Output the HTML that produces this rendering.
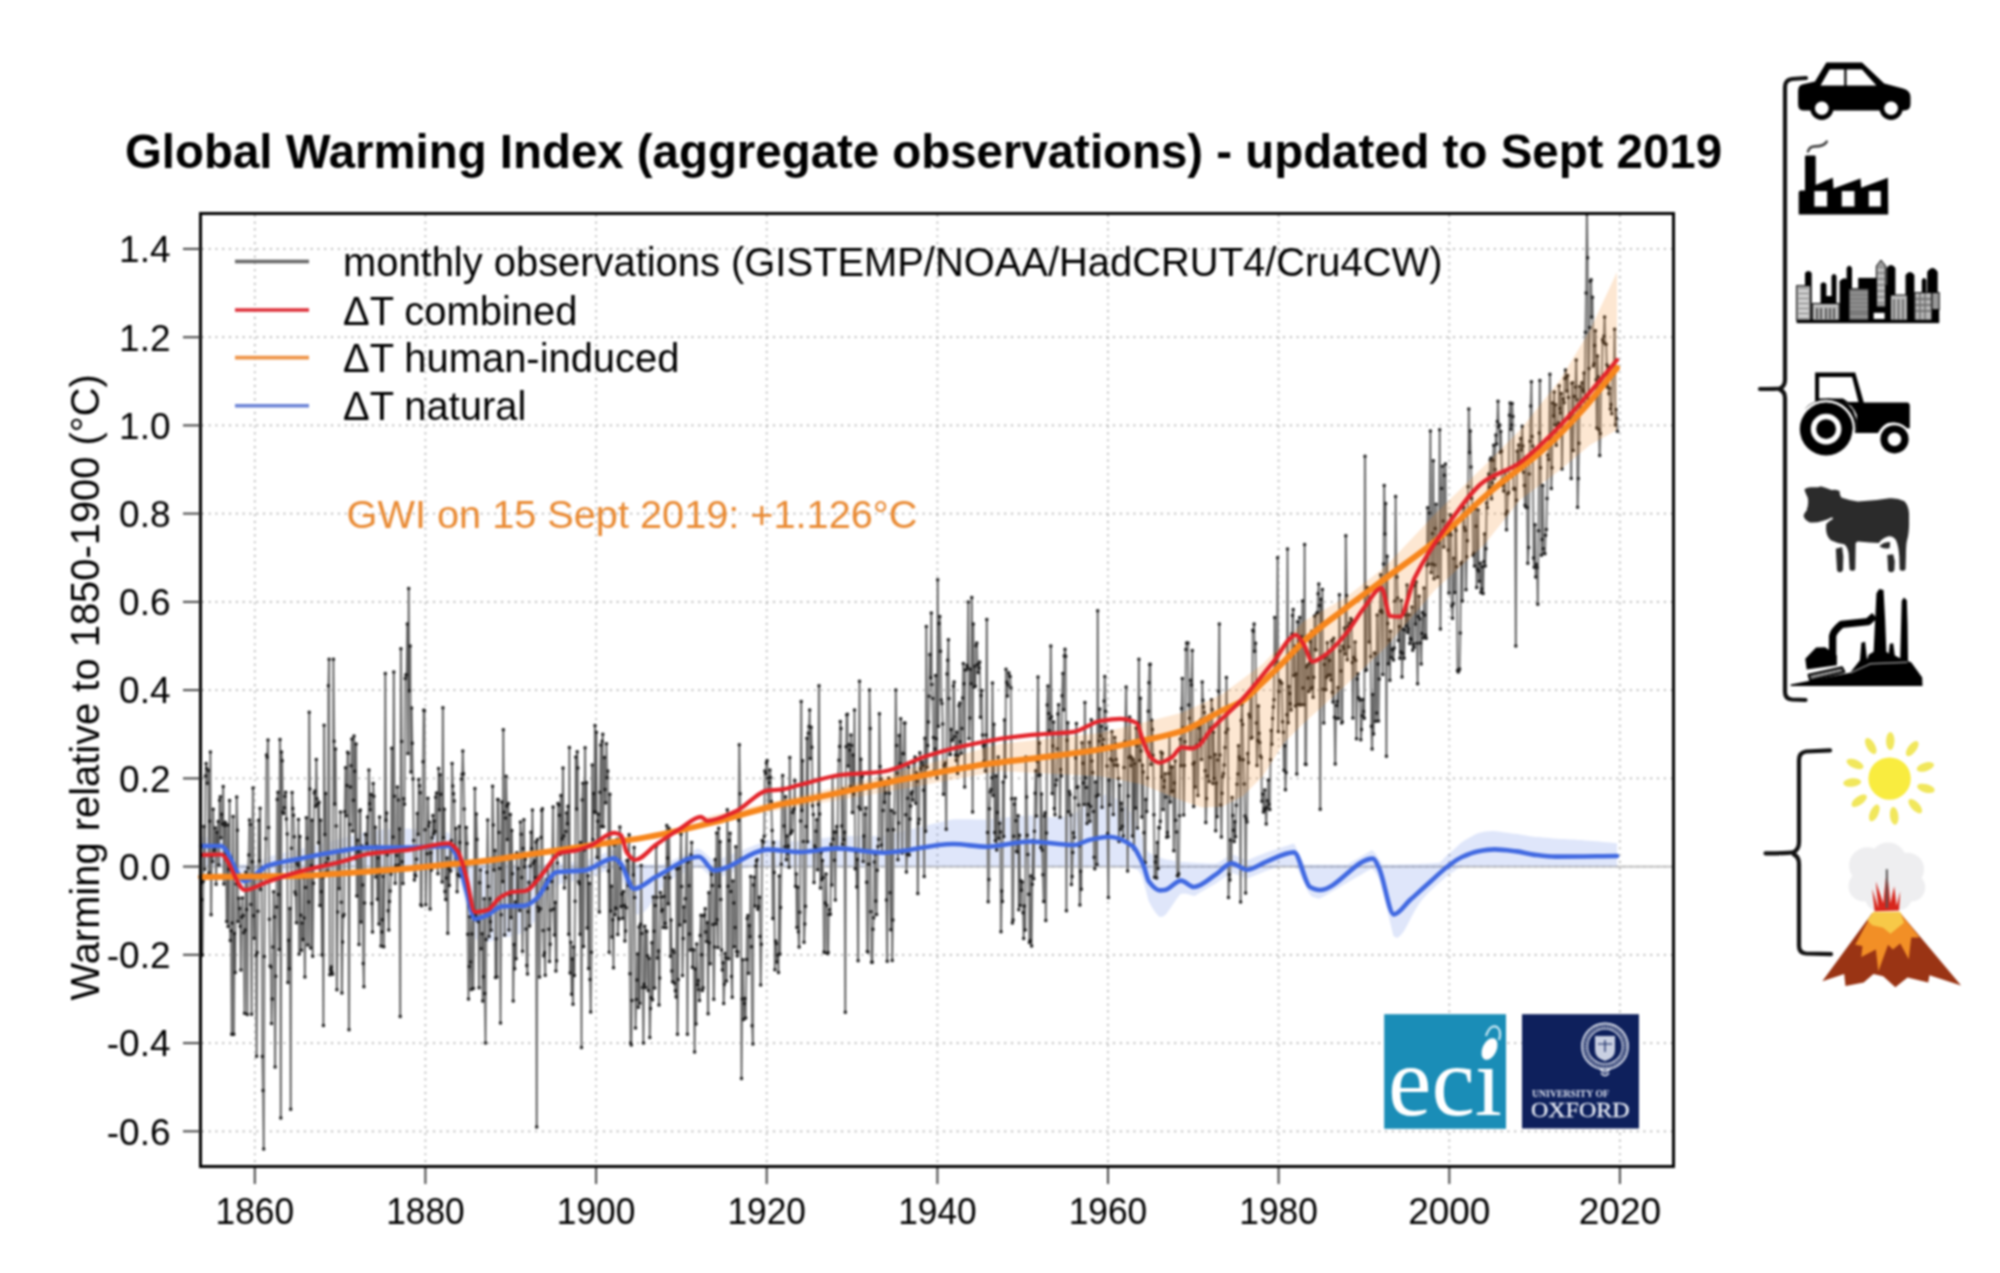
<!DOCTYPE html>
<html><head><meta charset="utf-8"><title>Global Warming Index</title>
<style>
html,body{margin:0;padding:0;background:#fff;}
body{width:2000px;height:1273px;overflow:hidden;}
svg{display:block;filter:blur(0.8px);}
text{font-family:"Liberation Sans",Arial,Helvetica,sans-serif;}
.serif{font-family:"Liberation Serif","Times New Roman",serif;}
</style></head>
<body>
<svg width="2000" height="1273" viewBox="0 0 2000 1273">
<rect width="2000" height="1273" fill="#fff"/>
<!-- title -->
<text x="125" y="168" font-size="47.4" font-weight="bold" fill="#000" textLength="1597" lengthAdjust="spacingAndGlyphs">Global Warming Index (aggregate observations) - updated to Sept 2019</text>

<!-- grid -->
<g stroke="#a8a8a8" stroke-width="1.7" stroke-dasharray="1.7 5.1" fill="none">
<line x1="254.8" y1="215" x2="254.8" y2="1165"/>
<line x1="425.4" y1="215" x2="425.4" y2="1165"/>
<line x1="596.1" y1="215" x2="596.1" y2="1165"/>
<line x1="766.7" y1="215" x2="766.7" y2="1165"/>
<line x1="937.4" y1="215" x2="937.4" y2="1165"/>
<line x1="1108.0" y1="215" x2="1108.0" y2="1165"/>
<line x1="1278.6" y1="215" x2="1278.6" y2="1165"/>
<line x1="1449.3" y1="215" x2="1449.3" y2="1165"/>
<line x1="1619.9" y1="215" x2="1619.9" y2="1165"/>
<line x1="202" y1="1131.3" x2="1672" y2="1131.3"/>
<line x1="202" y1="1043.1" x2="1672" y2="1043.1"/>
<line x1="202" y1="954.8" x2="1672" y2="954.8"/>
<line x1="202" y1="866.6" x2="1672" y2="866.6"/>
<line x1="202" y1="778.4" x2="1672" y2="778.4"/>
<line x1="202" y1="690.1" x2="1672" y2="690.1"/>
<line x1="202" y1="601.9" x2="1672" y2="601.9"/>
<line x1="202" y1="513.6" x2="1672" y2="513.6"/>
<line x1="202" y1="425.4" x2="1672" y2="425.4"/>
<line x1="202" y1="337.2" x2="1672" y2="337.2"/>
<line x1="202" y1="248.9" x2="1672" y2="248.9"/>
</g>
<!-- zero line -->
<line x1="202" y1="866.6" x2="1672" y2="866.6" stroke="#b9b9b9" stroke-width="1.6"/>

<!-- blue band -->
<polygon points="201.0,837.0 204.5,837.0 208.1,837.0 211.6,837.0 215.2,837.0 218.7,837.0 222.3,838.9 225.8,844.1 229.4,849.3 232.9,854.6 236.5,859.8 240.0,864.6 243.6,864.6 247.1,864.6 250.7,864.6 254.2,864.6 257.8,863.2 261.3,860.8 264.9,858.4 268.4,856.6 272.0,855.8 275.5,855.0 279.1,854.2 282.6,853.3 286.2,852.5 289.7,851.6 293.3,850.8 296.8,849.9 300.4,849.1 303.9,848.3 307.5,847.5 311.0,846.7 314.6,845.8 318.1,844.9 321.7,844.0 325.2,843.1 328.8,842.1 332.3,841.1 335.9,840.0 339.4,838.9 343.0,838.0 346.5,837.1 350.1,836.2 353.6,835.2 357.2,834.2 360.7,833.2 364.2,832.3 367.8,831.3 371.3,830.8 374.9,830.3 378.4,829.9 382.0,829.5 385.5,829.1 389.1,828.9 392.6,828.7 396.2,828.5 399.7,828.5 403.3,828.5 406.8,828.6 410.4,828.8 413.9,828.9 417.5,829.1 421.0,829.4 424.6,829.7 428.1,830.0 431.7,830.4 435.2,830.7 438.8,831.1 442.3,831.5 445.9,831.9 449.4,832.9 453.0,838.3 456.5,843.7 460.1,854.5 463.6,861.8 467.2,862.2 470.7,862.5 474.3,862.8 477.8,863.1 481.4,863.3 484.9,863.5 488.5,863.7 492.0,863.9 495.6,864.0 499.1,864.1 502.7,864.2 506.2,864.3 509.8,864.4 513.3,864.4 516.8,864.5 520.4,864.5 523.9,864.5 527.5,864.5 531.0,864.6 534.6,864.6 538.1,864.6 541.7,864.6 545.2,864.6 548.8,864.6 552.3,864.6 555.9,864.4 559.4,862.9 563.0,862.6 566.5,862.4 570.1,862.2 573.6,862.0 577.2,861.8 580.7,861.6 584.3,861.3 587.8,859.9 591.4,858.4 594.9,857.0 598.5,855.6 602.0,854.2 605.6,852.8 609.1,851.4 612.7,849.9 616.2,851.2 619.8,854.0 623.3,859.4 626.9,864.6 630.4,864.6 634.0,864.6 637.5,864.6 641.1,864.6 644.6,864.6 648.2,864.6 651.7,864.6 655.3,864.6 658.8,864.6 662.4,864.6 665.9,863.2 669.5,861.5 673.0,859.9 676.5,858.2 680.1,856.6 683.6,854.9 687.2,853.2 690.7,851.6 694.3,849.9 697.8,848.3 701.4,849.9 704.9,853.1 708.5,856.3 712.0,859.5 715.6,860.7 719.1,859.3 722.7,857.9 726.2,856.5 729.8,855.1 733.3,853.7 736.9,852.3 740.4,850.9 744.0,849.5 747.5,848.1 751.1,846.7 754.6,845.3 758.2,843.9 761.7,842.5 765.3,841.1 768.8,840.0 772.4,840.2 775.9,840.4 779.5,840.6 783.0,840.7 786.6,840.9 790.1,841.1 793.7,841.2 797.2,841.4 800.8,841.4 804.3,840.9 807.9,840.4 811.4,839.9 815.0,839.4 818.5,838.8 822.1,838.3 825.6,837.8 829.2,837.2 832.7,836.6 836.2,836.0 839.8,836.0 843.3,836.0 846.9,836.1 850.4,836.1 854.0,836.1 857.5,836.1 861.1,836.1 864.6,836.1 868.2,836.1 871.7,836.1 875.3,836.0 878.8,836.0 882.4,835.9 885.9,835.4 889.5,834.5 893.0,833.7 896.6,832.8 900.1,831.9 903.7,831.1 907.2,830.2 910.8,829.3 914.3,828.4 917.9,827.6 921.4,826.7 925.0,825.8 928.5,825.0 932.1,824.1 935.6,823.3 939.2,822.4 942.7,821.6 946.3,820.8 949.8,820.0 953.4,819.3 956.9,819.3 960.5,819.2 964.0,819.3 967.6,819.3 971.1,819.3 974.7,819.4 978.2,819.5 981.8,819.6 985.3,819.8 988.8,819.6 992.4,819.1 995.9,818.6 999.5,818.2 1003.0,817.8 1006.6,817.4 1010.1,817.0 1013.7,816.7 1017.2,816.3 1020.8,816.0 1024.3,815.8 1027.9,815.5 1031.4,815.5 1035.0,815.9 1038.5,816.3 1042.1,816.7 1045.6,817.0 1049.2,817.2 1052.7,817.3 1056.3,817.3 1059.8,817.1 1063.4,816.7 1066.9,816.1 1070.5,815.3 1074.0,814.3 1077.6,811.6 1081.1,808.9 1084.7,806.0 1088.2,803.1 1091.8,800.7 1095.3,798.6 1098.9,796.9 1102.4,795.5 1106.0,794.6 1109.5,794.4 1113.1,796.4 1116.6,798.9 1120.2,801.9 1123.7,805.2 1127.3,808.8 1130.8,812.6 1134.4,818.1 1137.9,826.3 1141.5,835.4 1145.0,846.4 1148.5,852.4 1152.1,854.2 1155.6,855.8 1159.2,857.2 1162.7,858.4 1166.3,859.4 1169.8,860.1 1173.4,860.8 1176.9,861.3 1180.5,861.7 1184.0,862.1 1187.6,862.3 1191.1,862.6 1194.7,862.8 1198.2,863.0 1201.8,863.1 1205.3,863.2 1208.9,863.4 1212.4,863.5 1216.0,863.6 1219.5,862.0 1223.1,859.5 1226.6,857.1 1230.2,854.7 1233.7,854.7 1237.3,856.2 1240.8,857.7 1244.4,859.2 1247.9,859.9 1251.5,858.5 1255.0,857.0 1258.6,855.6 1262.1,854.2 1265.7,852.7 1269.2,851.5 1272.8,850.3 1276.3,849.2 1279.9,848.0 1283.4,846.8 1287.0,845.7 1290.5,844.5 1294.1,843.4 1297.6,851.1 1301.2,858.8 1304.7,864.5 1308.2,864.5 1311.8,864.6 1315.3,864.6 1318.9,864.6 1322.4,864.6 1326.0,864.6 1329.5,864.6 1333.1,864.6 1336.6,864.6 1340.2,864.6 1343.7,864.6 1347.3,864.6 1350.8,862.6 1354.4,860.5 1357.9,858.4 1361.5,856.3 1365.0,854.2 1368.6,852.1 1372.1,850.0 1375.7,853.7 1379.2,859.6 1382.8,864.5 1386.3,864.5 1389.9,864.4 1393.4,864.4 1397.0,864.4 1400.5,864.3 1404.1,864.3 1407.6,864.2 1411.2,864.1 1414.7,864.0 1418.3,864.0 1421.8,863.8 1425.4,863.7 1428.9,863.5 1432.5,863.3 1436.0,863.1 1439.6,862.8 1443.1,859.2 1446.7,855.6 1450.2,852.5 1453.8,849.4 1457.3,846.3 1460.8,843.1 1464.4,840.6 1467.9,838.5 1471.5,836.4 1475.0,834.5 1478.6,832.9 1482.1,832.2 1485.7,831.6 1489.2,831.2 1492.8,831.0 1496.3,831.2 1499.9,831.8 1503.4,832.3 1507.0,832.8 1510.5,833.3 1514.1,833.7 1517.6,834.1 1521.2,834.7 1524.7,835.3 1528.3,835.9 1531.8,836.5 1535.4,836.9 1538.9,837.1 1542.5,837.4 1546.0,837.7 1549.6,838.1 1553.1,838.5 1556.7,838.8 1560.2,838.9 1563.8,839.0 1567.3,839.2 1570.9,839.4 1574.4,839.6 1578.0,839.9 1581.5,840.1 1585.1,840.4 1588.6,840.7 1592.2,841.0 1595.7,841.3 1599.3,841.6 1602.8,842.0 1606.4,842.3 1609.9,842.6 1613.5,842.9 1617.0,843.2 1617.0,866.6 1613.5,866.6 1609.9,866.6 1606.4,866.6 1602.8,866.6 1599.3,866.6 1595.7,866.6 1592.2,866.6 1588.6,866.6 1585.1,866.6 1581.5,866.6 1578.0,866.6 1574.4,866.6 1570.9,866.6 1567.3,866.6 1563.8,866.6 1560.2,866.6 1556.7,866.6 1553.1,866.6 1549.6,866.6 1546.0,866.6 1542.5,866.6 1538.9,866.6 1535.4,866.6 1531.8,866.6 1528.3,866.6 1524.7,866.6 1521.2,866.6 1517.6,866.6 1514.1,866.6 1510.5,866.6 1507.0,866.6 1503.4,866.6 1499.9,866.6 1496.3,866.6 1492.8,866.6 1489.2,866.6 1485.7,866.6 1482.1,866.6 1478.6,866.6 1475.0,866.6 1471.5,866.6 1467.9,866.6 1464.4,866.6 1460.8,866.8 1457.3,869.1 1453.8,871.4 1450.2,873.8 1446.7,876.3 1443.1,879.5 1439.6,882.6 1436.0,885.7 1432.5,888.9 1428.9,892.3 1425.4,895.9 1421.8,900.0 1418.3,905.0 1414.7,910.9 1411.2,917.6 1407.6,924.6 1404.1,930.9 1400.5,935.5 1397.0,937.9 1393.4,936.1 1389.9,921.4 1386.3,906.7 1382.8,892.8 1379.2,879.8 1375.7,872.7 1372.1,868.5 1368.6,870.3 1365.0,872.3 1361.5,874.4 1357.9,876.4 1354.4,878.5 1350.8,880.6 1347.3,882.7 1343.7,884.8 1340.2,886.9 1336.6,888.9 1333.1,891.0 1329.5,893.1 1326.0,895.2 1322.4,897.3 1318.9,898.8 1315.3,897.7 1311.8,896.6 1308.2,892.2 1304.7,884.5 1301.2,876.9 1297.6,869.2 1294.1,866.6 1290.5,866.6 1287.0,866.6 1283.4,866.6 1279.9,866.6 1276.3,867.3 1272.8,868.5 1269.2,869.7 1265.7,870.9 1262.1,872.4 1258.6,873.9 1255.0,875.4 1251.5,876.8 1247.9,878.3 1244.4,877.6 1240.8,876.2 1237.3,874.7 1233.7,873.3 1230.2,873.3 1226.6,875.9 1223.1,878.4 1219.5,880.9 1216.0,883.4 1212.4,885.4 1208.9,887.5 1205.3,889.5 1201.8,891.6 1198.2,893.7 1194.7,895.9 1191.1,895.2 1187.6,894.1 1184.0,893.5 1180.5,894.1 1176.9,898.6 1173.4,903.7 1169.8,909.0 1166.3,913.9 1162.7,916.7 1159.2,916.7 1155.6,912.8 1152.1,907.6 1148.5,900.7 1145.0,887.0 1141.5,875.5 1137.9,869.9 1134.4,868.4 1130.8,867.5 1127.3,867.0 1123.7,866.8 1120.2,866.7 1116.6,866.6 1113.1,866.6 1109.5,866.6 1106.0,866.6 1102.4,866.6 1098.9,866.6 1095.3,866.6 1091.8,866.6 1088.2,866.6 1084.7,866.6 1081.1,866.6 1077.6,866.6 1074.0,866.6 1070.5,866.6 1066.9,866.6 1063.4,866.6 1059.8,866.6 1056.3,866.6 1052.7,866.6 1049.2,866.6 1045.6,866.6 1042.1,866.6 1038.5,866.6 1035.0,866.6 1031.4,866.6 1027.9,866.6 1024.3,866.6 1020.8,866.6 1017.2,866.6 1013.7,866.6 1010.1,866.6 1006.6,866.6 1003.0,866.6 999.5,866.6 995.9,866.6 992.4,866.6 988.8,866.6 985.3,866.6 981.8,866.6 978.2,866.6 974.7,866.6 971.1,866.6 967.6,866.6 964.0,866.6 960.5,866.6 956.9,866.6 953.4,866.6 949.8,866.6 946.3,866.6 942.7,866.6 939.2,866.6 935.6,866.6 932.1,866.6 928.5,866.6 925.0,866.6 921.4,866.6 917.9,866.6 914.3,866.6 910.8,866.6 907.2,866.6 903.7,866.6 900.1,866.6 896.6,866.6 893.0,866.6 889.5,866.6 885.9,866.6 882.4,866.6 878.8,866.6 875.3,866.6 871.7,866.6 868.2,866.6 864.6,866.6 861.1,866.6 857.5,866.6 854.0,866.6 850.4,866.6 846.9,866.6 843.3,866.6 839.8,866.6 836.2,866.6 832.7,866.6 829.2,866.6 825.6,866.6 822.1,866.6 818.5,866.6 815.0,866.6 811.4,866.6 807.9,866.6 804.3,866.6 800.8,866.6 797.2,866.6 793.7,866.6 790.1,866.6 786.6,866.6 783.0,866.6 779.5,866.6 775.9,866.6 772.4,866.6 768.8,866.6 765.3,866.6 761.7,866.6 758.2,866.6 754.6,866.6 751.1,866.6 747.5,866.6 744.0,867.9 740.4,869.2 736.9,870.6 733.3,872.0 729.8,873.3 726.2,874.7 722.7,876.1 719.1,877.4 715.6,878.8 712.0,877.6 708.5,874.4 704.9,871.2 701.4,868.0 697.8,866.6 694.3,868.0 690.7,869.6 687.2,871.3 683.6,873.0 680.1,874.7 676.5,876.6 673.0,878.6 669.5,881.0 665.9,883.9 662.4,887.6 658.8,892.0 655.3,897.1 651.7,902.6 648.2,907.6 644.6,911.5 641.1,913.9 637.5,914.5 634.0,913.7 630.4,903.5 626.9,893.2 623.3,883.4 619.8,875.6 616.2,871.2 612.7,869.0 609.1,869.8 605.6,871.0 602.0,872.3 598.5,873.7 594.9,875.2 591.4,876.6 587.8,878.1 584.3,879.7 580.7,880.2 577.2,880.6 573.6,881.1 570.1,881.7 566.5,882.4 563.0,883.2 559.4,884.2 555.9,886.7 552.3,892.3 548.8,898.1 545.2,904.1 541.7,910.2 538.1,916.3 534.6,921.6 531.0,925.4 527.5,929.1 523.9,932.1 520.4,933.7 516.8,935.0 513.3,936.1 509.8,936.8 506.2,937.2 502.7,937.3 499.1,938.6 495.6,940.0 492.0,941.1 488.5,941.9 484.9,941.8 481.4,941.4 477.8,940.8 474.3,937.6 470.7,924.0 467.2,910.5 463.6,896.3 460.1,881.9 456.5,871.5 453.0,870.5 449.4,869.7 445.9,869.0 442.3,868.4 438.8,867.9 435.2,867.6 431.7,867.3 428.1,867.1 424.6,867.0 421.0,866.8 417.5,866.8 413.9,866.7 410.4,866.7 406.8,866.6 403.3,866.6 399.7,866.6 396.2,866.6 392.6,866.6 389.1,866.6 385.5,866.6 382.0,866.6 378.4,866.6 374.9,866.6 371.3,866.6 367.8,866.6 364.2,866.6 360.7,866.6 357.2,866.6 353.6,866.6 350.1,866.6 346.5,866.6 343.0,866.6 339.4,866.6 335.9,866.6 332.3,866.6 328.8,866.6 325.2,866.6 321.7,866.6 318.1,866.6 314.6,866.6 311.0,866.6 307.5,866.6 303.9,866.9 300.4,867.5 296.8,868.3 293.3,869.1 289.7,869.9 286.2,870.7 282.6,871.5 279.1,872.3 275.5,873.1 272.0,873.9 268.4,874.7 264.9,876.4 261.3,878.8 257.8,881.2 254.2,883.6 250.7,886.0 247.1,888.4 243.6,888.2 240.0,883.0 236.5,877.8 232.9,872.6 229.4,867.3 225.8,866.6 222.3,866.6 218.7,866.6 215.2,866.6 211.6,866.6 208.1,866.6 204.5,866.6 201.0,866.6" fill="#4169e1" fill-opacity="0.17"/>

<!-- data -->
<defs><clipPath id="pc"><rect x="202" y="215" width="1470" height="950"/></clipPath></defs>
<g clip-path="url(#pc)">
<path d="M169.8 828.2 L170.5 756.3 L171.3 779.4 L172.0 812.8 L172.7 838.2 L173.4 861.9 L174.1 813.9 L174.8 825.7 L175.5 788.1 L176.2 885.1 L176.9 782.3 L177.7 813.6 L178.4 786.2 L179.1 817.5 L179.8 844.6 L180.5 811.8 L181.2 777.7 L181.9 817.1 L182.6 832.3 L183.3 794.4 L184.1 860.4 L184.8 924.8 L185.5 851.9 L186.2 875.8 L186.9 953.4 L187.6 929.6 L188.3 900.2 L189.0 925.7 L189.7 953.3 L190.5 884.1 L191.2 806.7 L191.9 831.8 L192.6 870.6 L193.3 827.9 L194.0 790.7 L194.7 828.1 L195.4 800.1 L196.1 760.7 L196.9 809.4 L197.6 864.1 L198.3 827.1 L199.0 815.6 L199.7 764.9 L200.4 869.1 L201.1 883.5 L201.8 899.7 L202.5 955.1 L203.3 881.5 L204.0 826.6 L204.7 869.3 L205.4 775.9 L206.1 763.5 L206.8 768.6 L207.5 783.3 L208.2 770.6 L208.9 873.1 L209.7 821.3 L210.4 751.9 L211.1 914.8 L211.8 856.1 L212.5 861.4 L213.2 809.3 L213.9 850.8 L214.6 848.0 L215.3 828.0 L216.1 884.2 L216.8 832.2 L217.5 846.2 L218.2 821.6 L218.9 865.0 L219.6 800.2 L220.3 796.8 L221.0 837.8 L221.7 814.2 L222.4 824.0 L223.2 786.4 L223.9 884.0 L224.6 825.4 L225.3 822.3 L226.0 853.6 L226.7 921.5 L227.4 825.1 L228.1 926.4 L228.8 869.2 L229.6 800.4 L230.3 940.5 L231.0 930.8 L231.7 1034.3 L232.4 923.0 L233.1 816.5 L233.8 1034.3 L234.5 933.4 L235.2 972.5 L236.0 883.9 L236.7 797.1 L237.4 830.3 L238.1 921.4 L238.8 898.3 L239.5 908.5 L240.2 926.3 L240.9 970.1 L241.6 917.3 L242.4 897.9 L243.1 915.6 L243.8 932.7 L244.5 1013.2 L245.2 929.9 L245.9 871.9 L246.6 909.4 L247.3 1014.4 L248.0 868.1 L248.8 855.1 L249.5 820.0 L250.2 824.5 L250.9 904.4 L251.6 1014.2 L252.3 861.7 L253.0 788.0 L253.7 915.8 L254.4 938.2 L255.2 876.3 L255.9 955.2 L256.6 1056.3 L257.3 952.4 L258.0 911.3 L258.7 820.3 L259.4 860.9 L260.1 808.3 L260.8 889.5 L261.6 867.5 L262.3 1056.4 L263.0 1090.5 L263.7 1149.0 L264.4 956.4 L265.1 875.0 L265.8 838.7 L266.5 755.0 L267.2 757.2 L268.0 739.9 L268.7 827.4 L269.4 919.3 L270.1 966.0 L270.8 966.9 L271.5 1023.6 L272.2 999.1 L272.9 946.9 L273.6 891.7 L274.4 917.0 L275.1 1067.1 L275.8 976.3 L276.5 907.1 L277.2 799.4 L277.9 792.2 L278.6 894.4 L279.3 949.5 L280.0 739.5 L280.8 1118.1 L281.5 751.9 L282.2 760.7 L282.9 811.9 L283.6 813.5 L284.3 807.8 L285.0 796.3 L285.7 792.2 L286.4 819.0 L287.2 833.9 L287.9 982.6 L288.6 940.2 L289.3 968.8 L290.0 908.6 L290.7 1109.3 L291.4 848.3 L292.1 792.6 L292.8 808.4 L293.5 815.2 L294.3 836.8 L295.0 891.9 L295.7 894.4 L296.4 922.8 L297.1 863.2 L297.8 865.3 L298.5 819.4 L299.2 954.0 L299.9 836.6 L300.7 915.2 L301.4 950.2 L302.1 923.0 L302.8 939.4 L303.5 877.7 L304.2 918.0 L304.9 977.0 L305.6 887.4 L306.3 817.8 L307.1 838.2 L307.8 945.0 L308.5 901.9 L309.2 712.2 L309.9 788.9 L310.6 948.1 L311.3 865.4 L312.0 820.2 L312.7 956.2 L313.5 883.2 L314.2 792.9 L314.9 791.0 L315.6 806.3 L316.3 759.5 L317.0 798.8 L317.7 804.0 L318.4 842.8 L319.1 802.2 L319.9 905.6 L320.6 820.3 L321.3 891.7 L322.0 954.9 L322.7 877.6 L323.4 1025.4 L324.1 725.2 L324.8 834.6 L325.5 793.4 L326.3 862.9 L327.0 871.0 L327.7 858.4 L328.4 685.7 L329.1 659.2 L329.8 974.7 L330.5 969.8 L331.2 966.9 L331.9 971.9 L332.7 974.3 L333.4 659.2 L334.1 741.3 L334.8 804.0 L335.5 748.9 L336.2 825.9 L336.9 989.8 L337.6 912.0 L338.3 851.4 L339.1 888.5 L339.8 850.9 L340.5 811.9 L341.2 902.2 L341.9 993.1 L342.6 942.1 L343.3 916.3 L344.0 914.4 L344.7 811.8 L345.5 767.8 L346.2 815.7 L346.9 785.4 L347.6 752.3 L348.3 753.2 L349.0 1029.8 L349.7 824.6 L350.4 786.9 L351.1 765.7 L351.9 739.1 L352.6 831.1 L353.3 800.2 L354.0 735.9 L354.7 771.2 L355.4 858.4 L356.1 743.9 L356.8 896.0 L357.5 840.2 L358.3 851.4 L359.0 944.6 L359.7 811.1 L360.4 810.0 L361.1 921.9 L361.8 845.9 L362.5 885.0 L363.2 963.6 L363.9 986.7 L364.6 903.1 L365.4 834.2 L366.1 834.7 L366.8 843.8 L367.5 816.9 L368.2 853.6 L368.9 769.9 L369.6 803.7 L370.3 809.7 L371.0 794.6 L371.8 903.6 L372.5 932.1 L373.2 783.4 L373.9 796.2 L374.6 847.3 L375.3 827.3 L376.0 876.9 L376.7 846.5 L377.4 899.3 L378.2 857.7 L378.9 924.0 L379.6 817.1 L380.3 873.0 L381.0 946.1 L381.7 931.9 L382.4 919.7 L383.1 876.2 L383.8 946.7 L384.6 872.1 L385.3 673.6 L386.0 820.2 L386.7 812.9 L387.4 854.9 L388.1 910.7 L388.8 929.9 L389.5 901.6 L390.2 891.1 L391.0 874.2 L391.7 748.2 L392.4 848.6 L393.1 837.0 L393.8 672.1 L394.5 796.2 L395.2 883.3 L395.9 865.4 L396.6 855.5 L397.4 787.1 L398.1 800.1 L398.8 865.1 L399.5 828.9 L400.2 1016.6 L400.9 648.7 L401.6 741.4 L402.3 861.7 L403.0 883.5 L403.8 798.8 L404.5 804.2 L405.2 678.4 L405.9 674.7 L406.6 675.0 L407.3 623.9 L408.0 753.5 L408.7 588.6 L409.4 690.7 L410.2 646.0 L410.9 772.1 L411.6 708.0 L412.3 743.2 L413.0 779.1 L413.7 840.5 L414.4 879.9 L415.1 874.9 L415.8 876.1 L416.6 859.2 L417.3 813.5 L418.0 834.3 L418.7 779.6 L419.4 785.7 L420.1 792.7 L420.8 904.7 L421.5 905.7 L422.2 847.0 L423.0 761.7 L423.7 710.3 L424.4 710.5 L425.1 829.7 L425.8 904.8 L426.5 867.6 L427.2 853.7 L427.9 798.3 L428.6 826.0 L429.4 822.2 L430.1 908.9 L430.8 852.7 L431.5 870.0 L432.2 837.8 L432.9 815.6 L433.6 834.1 L434.3 821.1 L435.0 831.6 L435.7 797.2 L436.5 792.9 L437.2 844.9 L437.9 873.7 L438.6 768.5 L439.3 809.7 L440.0 774.7 L440.7 794.2 L441.4 843.7 L442.1 882.1 L442.9 707.8 L443.6 837.7 L444.3 809.3 L445.0 891.6 L445.7 899.5 L446.4 878.0 L447.1 858.0 L447.8 933.2 L448.5 868.3 L449.3 885.4 L450.0 844.4 L450.7 870.9 L451.4 840.6 L452.1 763.5 L452.8 786.0 L453.5 793.8 L454.2 801.1 L454.9 862.7 L455.7 828.4 L456.4 849.6 L457.1 891.8 L457.8 874.4 L458.5 875.6 L459.2 826.4 L459.9 842.4 L460.6 876.3 L461.3 779.1 L462.1 774.2 L462.8 751.1 L463.5 773.7 L464.2 809.0 L464.9 865.6 L465.6 881.4 L466.3 827.6 L467.0 843.4 L467.7 934.3 L468.5 999.0 L469.2 966.6 L469.9 916.7 L470.6 961.9 L471.3 989.4 L472.0 933.9 L472.7 915.9 L473.4 988.6 L474.1 913.7 L474.9 788.5 L475.6 915.7 L476.3 814.0 L477.0 839.4 L477.7 920.9 L478.4 921.8 L479.1 987.8 L479.8 882.8 L480.5 869.9 L481.3 948.7 L482.0 933.8 L482.7 1001.0 L483.4 976.8 L484.1 898.7 L484.8 993.4 L485.5 1043.1 L486.2 939.6 L486.9 872.2 L487.7 820.0 L488.4 886.6 L489.1 936.4 L489.8 898.7 L490.5 921.7 L491.2 930.3 L491.9 858.6 L492.6 786.2 L493.3 825.0 L494.1 870.0 L494.8 850.6 L495.5 977.4 L496.2 938.8 L496.9 976.9 L497.6 799.4 L498.3 799.8 L499.0 832.4 L499.7 868.5 L500.5 1022.9 L501.2 914.8 L501.9 802.0 L502.6 881.4 L503.3 729.8 L504.0 812.3 L504.7 935.1 L505.4 818.0 L506.1 776.2 L506.8 806.0 L507.6 839.4 L508.3 803.6 L509.0 930.0 L509.7 894.5 L510.4 814.5 L511.1 917.6 L511.8 830.6 L512.5 873.8 L513.2 1000.9 L514.0 944.5 L514.7 968.8 L515.4 901.9 L516.1 958.7 L516.8 852.7 L517.5 906.4 L518.2 868.5 L518.9 906.4 L519.6 910.5 L520.4 822.1 L521.1 834.3 L521.8 877.4 L522.5 951.2 L523.2 848.6 L523.9 819.8 L524.6 866.9 L525.3 859.2 L526.0 929.0 L526.8 965.4 L527.5 974.1 L528.2 911.7 L528.9 882.3 L529.6 925.9 L530.3 866.0 L531.0 832.2 L531.7 848.7 L532.4 810.1 L533.2 863.2 L533.9 882.3 L534.6 860.8 L535.3 877.4 L536.0 842.0 L536.7 1126.9 L537.4 839.4 L538.1 907.2 L538.8 910.9 L539.6 977.0 L540.3 908.7 L541.0 837.6 L541.7 810.6 L542.4 808.8 L543.1 930.6 L543.8 955.8 L544.5 952.8 L545.2 975.2 L546.0 882.2 L546.7 879.4 L547.4 888.2 L548.1 865.6 L548.8 929.2 L549.5 961.4 L550.2 944.2 L550.9 910.3 L551.6 881.6 L552.4 852.0 L553.1 806.9 L553.8 908.9 L554.5 935.1 L555.2 902.4 L555.9 971.1 L556.6 960.7 L557.3 863.1 L558.0 803.4 L558.8 805.1 L559.5 815.3 L560.2 854.4 L560.9 795.5 L561.6 852.5 L562.3 838.7 L563.0 768.0 L563.7 835.8 L564.4 888.1 L565.2 877.5 L565.9 831.5 L566.6 813.1 L567.3 823.8 L568.0 806.2 L568.7 934.3 L569.4 747.5 L570.1 973.0 L570.8 942.3 L571.6 994.3 L572.3 959.0 L573.0 1004.3 L573.7 947.1 L574.4 975.6 L575.1 901.2 L575.8 757.1 L576.5 809.1 L577.2 751.7 L577.9 768.0 L578.7 881.7 L579.4 883.7 L580.1 934.2 L580.8 842.6 L581.5 1047.5 L582.2 799.9 L582.9 783.3 L583.6 946.6 L584.3 850.1 L585.1 747.7 L585.8 844.8 L586.5 782.8 L587.2 928.0 L587.9 875.7 L588.6 968.5 L589.3 883.6 L590.0 979.4 L590.7 1012.0 L591.5 952.3 L592.2 765.1 L592.9 839.4 L593.6 793.6 L594.3 812.1 L595.0 725.4 L595.7 812.2 L596.4 732.3 L597.1 857.6 L597.9 821.2 L598.6 814.2 L599.3 911.9 L600.0 792.2 L600.7 744.9 L601.4 826.5 L602.1 741.3 L602.8 734.2 L603.5 826.8 L604.3 757.6 L605.0 789.6 L605.7 802.7 L606.4 743.8 L607.1 777.7 L607.8 770.9 L608.5 871.1 L609.2 952.2 L609.9 794.2 L610.7 911.0 L611.4 886.2 L612.1 937.1 L612.8 919.8 L613.5 967.7 L614.2 845.3 L614.9 914.7 L615.6 908.0 L616.3 908.6 L617.1 839.3 L617.8 934.6 L618.5 918.3 L619.2 919.1 L619.9 827.0 L620.6 867.9 L621.3 906.5 L622.0 894.1 L622.7 918.3 L623.5 891.5 L624.2 905.5 L624.9 940.9 L625.6 931.1 L626.3 907.8 L627.0 860.6 L627.7 880.6 L628.4 885.5 L629.1 834.7 L629.9 973.7 L630.6 1043.1 L631.3 1044.9 L632.0 1000.6 L632.7 858.9 L633.4 875.1 L634.1 847.4 L634.8 897.6 L635.5 1028.1 L636.3 999.5 L637.0 979.9 L637.7 954.0 L638.4 1007.3 L639.1 927.1 L639.8 1003.3 L640.5 924.2 L641.2 865.6 L641.9 933.6 L642.7 987.5 L643.4 1043.1 L644.1 984.3 L644.8 926.3 L645.5 987.5 L646.2 930.7 L646.9 931.4 L647.6 955.7 L648.3 990.5 L649.0 958.6 L649.8 1037.6 L650.5 1008.5 L651.2 997.7 L651.9 942.8 L652.6 999.8 L653.3 897.1 L654.0 931.3 L654.7 988.1 L655.4 905.6 L656.2 846.5 L656.9 897.3 L657.6 957.9 L658.3 950.9 L659.0 1005.1 L659.7 977.9 L660.4 892.4 L661.1 897.1 L661.8 910.9 L662.6 909.7 L663.3 927.4 L664.0 896.6 L664.7 877.5 L665.4 923.3 L666.1 927.7 L666.8 825.5 L667.5 857.9 L668.2 903.7 L669.0 828.2 L669.7 877.8 L670.4 956.2 L671.1 920.0 L671.8 971.1 L672.5 981.7 L673.2 950.0 L673.9 952.6 L674.6 983.2 L675.4 990.8 L676.1 997.0 L676.8 868.9 L677.5 1034.3 L678.2 979.4 L678.9 868.3 L679.6 924.9 L680.3 862.2 L681.0 834.3 L681.8 886.5 L682.5 975.4 L683.2 938.6 L683.9 907.1 L684.6 921.6 L685.3 898.7 L686.0 858.8 L686.7 827.0 L687.4 1034.3 L688.2 862.0 L688.9 885.7 L689.6 934.1 L690.3 950.1 L691.0 854.9 L691.7 842.5 L692.4 967.3 L693.1 949.6 L693.8 949.9 L694.6 1051.9 L695.3 968.9 L696.0 1023.9 L696.7 944.1 L697.4 984.7 L698.1 980.6 L698.8 989.4 L699.5 1000.4 L700.2 935.4 L701.0 915.3 L701.7 954.8 L702.4 990.5 L703.1 987.7 L703.8 915.8 L704.5 915.0 L705.2 908.8 L705.9 932.1 L706.6 941.4 L707.4 922.8 L708.1 1013.8 L708.8 892.8 L709.5 942.7 L710.2 963.7 L710.9 870.1 L711.6 874.6 L712.3 885.5 L713.0 924.4 L713.8 999.2 L714.5 947.0 L715.2 859.6 L715.9 923.7 L716.6 833.0 L717.3 919.8 L718.0 947.4 L718.7 828.2 L719.4 886.3 L720.1 841.7 L720.9 899.4 L721.6 949.9 L722.3 970.0 L723.0 962.7 L723.7 1003.4 L724.4 984.3 L725.1 953.6 L725.8 957.7 L726.5 981.1 L727.3 809.7 L728.0 886.2 L728.7 958.7 L729.4 840.5 L730.1 833.2 L730.8 891.4 L731.5 976.6 L732.2 997.2 L732.9 880.9 L733.7 902.9 L734.4 946.7 L735.1 927.4 L735.8 846.8 L736.5 951.5 L737.2 955.9 L737.9 952.1 L738.6 820.2 L739.3 744.7 L740.1 793.8 L740.8 858.9 L741.5 1078.4 L742.2 999.1 L742.9 959.8 L743.6 1019.4 L744.3 1003.5 L745.0 998.4 L745.7 1018.0 L746.5 959.5 L747.2 918.5 L747.9 915.4 L748.6 973.2 L749.3 925.6 L750.0 936.7 L750.7 876.6 L751.4 946.8 L752.1 1025.8 L752.9 1044.0 L753.6 885.0 L754.3 877.2 L755.0 906.1 L755.7 865.9 L756.4 861.0 L757.1 859.4 L757.8 909.3 L758.5 906.5 L759.3 897.3 L760.0 936.5 L760.7 984.9 L761.4 944.3 L762.1 840.5 L762.8 849.1 L763.5 841.9 L764.2 836.2 L764.9 770.9 L765.7 773.6 L766.4 763.1 L767.1 760.4 L767.8 778.0 L768.5 808.7 L769.2 782.8 L769.9 769.9 L770.6 777.5 L771.3 801.6 L772.1 830.5 L772.8 918.6 L773.5 842.6 L774.2 872.6 L774.9 969.8 L775.6 941.1 L776.3 943.5 L777.0 962.0 L777.7 955.1 L778.5 972.5 L779.2 875.9 L779.9 953.9 L780.6 907.5 L781.3 864.2 L782.0 790.7 L782.7 775.5 L783.4 802.3 L784.1 825.9 L784.9 846.8 L785.6 796.8 L786.3 859.8 L787.0 836.0 L787.7 853.3 L788.4 846.1 L789.1 867.2 L789.8 757.5 L790.5 833.8 L791.2 832.8 L792.0 830.8 L792.7 812.6 L793.4 809.5 L794.1 808.7 L794.8 780.4 L795.5 886.2 L796.2 874.1 L796.9 927.5 L797.6 887.2 L798.4 931.8 L799.1 947.1 L799.8 912.3 L800.5 821.1 L801.2 701.6 L801.9 810.5 L802.6 760.7 L803.3 841.4 L804.0 942.2 L804.8 924.1 L805.5 906.2 L806.2 826.4 L806.9 738.2 L807.6 841.7 L808.3 733.2 L809.0 726.4 L809.7 710.0 L810.4 758.6 L811.2 727.2 L811.9 747.3 L812.6 805.8 L813.3 814.5 L814.0 882.5 L814.7 846.0 L815.4 848.2 L816.1 831.2 L816.8 819.8 L817.6 869.8 L818.3 804.5 L819.0 685.7 L819.7 814.1 L820.4 887.9 L821.1 852.4 L821.8 879.6 L822.5 860.5 L823.2 877.6 L824.0 951.9 L824.7 952.4 L825.4 903.0 L826.1 873.9 L826.8 905.6 L827.5 953.4 L828.2 952.4 L828.9 914.4 L829.6 909.5 L830.4 914.3 L831.1 844.3 L831.8 884.9 L832.5 776.8 L833.2 839.3 L833.9 832.1 L834.6 860.2 L835.3 899.9 L836.0 831.9 L836.8 826.4 L837.5 849.1 L838.2 775.4 L838.9 760.2 L839.6 746.4 L840.3 721.5 L841.0 728.6 L841.7 826.1 L842.4 844.3 L843.2 789.2 L843.9 839.8 L844.6 832.2 L845.3 1012.2 L846.0 746.8 L846.7 714.7 L847.4 714.3 L848.1 766.0 L848.8 744.5 L849.6 749.9 L850.3 786.4 L851.0 735.1 L851.7 745.5 L852.4 812.5 L853.1 755.0 L853.8 793.9 L854.5 709.9 L855.2 868.8 L856.0 851.8 L856.7 886.9 L857.4 859.4 L858.1 960.7 L858.8 807.0 L859.5 681.3 L860.2 809.2 L860.9 759.3 L861.6 789.5 L862.3 776.4 L863.1 861.4 L863.8 836.1 L864.5 851.0 L865.2 814.5 L865.9 807.9 L866.6 882.3 L867.3 951.4 L868.0 952.0 L868.7 864.2 L869.5 690.1 L870.2 728.4 L870.9 911.8 L871.6 962.3 L872.3 962.3 L873.0 929.2 L873.7 917.7 L874.4 861.9 L875.1 854.2 L875.9 901.1 L876.6 914.4 L877.3 870.2 L878.0 846.5 L878.7 839.2 L879.4 713.8 L880.1 766.6 L880.8 779.2 L881.5 844.9 L882.3 852.2 L883.0 810.5 L883.7 782.1 L884.4 802.3 L885.1 785.6 L885.8 792.9 L886.5 899.9 L887.2 961.3 L887.9 830.1 L888.7 778.2 L889.4 793.3 L890.1 892.8 L890.8 929.7 L891.5 810.4 L892.2 960.4 L892.9 920.0 L893.6 829.8 L894.3 813.0 L895.1 768.8 L895.8 690.1 L896.5 745.6 L897.2 773.2 L897.9 859.8 L898.6 823.0 L899.3 735.6 L900.0 763.4 L900.7 718.8 L901.5 779.1 L902.2 853.1 L902.9 753.6 L903.6 753.7 L904.3 723.1 L905.0 722.9 L905.7 814.7 L906.4 872.0 L907.1 854.4 L907.9 798.3 L908.6 767.1 L909.3 854.9 L910.0 819.0 L910.7 806.1 L911.4 793.7 L912.1 791.8 L912.8 800.0 L913.5 761.3 L914.3 762.2 L915.0 757.1 L915.7 803.2 L916.4 772.7 L917.1 781.2 L917.8 893.5 L918.5 823.3 L919.2 819.3 L919.9 752.7 L920.7 768.8 L921.4 775.0 L922.1 762.1 L922.8 765.6 L923.5 790.3 L924.2 876.4 L924.9 738.3 L925.6 831.3 L926.3 626.6 L927.1 767.3 L927.8 745.6 L928.5 722.0 L929.2 696.3 L929.9 654.4 L930.6 677.7 L931.3 613.1 L932.0 684.6 L932.7 698.5 L933.4 737.5 L934.2 770.9 L934.9 749.0 L935.6 675.4 L936.3 738.7 L937.0 777.9 L937.7 579.8 L938.4 726.3 L939.1 623.5 L939.8 616.5 L940.6 651.3 L941.3 700.1 L942.0 703.5 L942.7 724.1 L943.4 794.2 L944.1 765.4 L944.8 764.8 L945.5 763.0 L946.2 829.2 L947.0 674.1 L947.7 660.2 L948.4 639.7 L949.1 698.6 L949.8 754.4 L950.5 754.5 L951.2 729.6 L951.9 740.4 L952.6 739.5 L953.4 686.0 L954.1 681.9 L954.8 736.5 L955.5 754.9 L956.2 760.5 L956.9 732.3 L957.6 773.6 L958.3 755.5 L959.0 705.7 L959.8 703.0 L960.5 741.7 L961.2 753.2 L961.9 728.6 L962.6 697.9 L963.3 663.5 L964.0 683.7 L964.7 787.1 L965.4 670.1 L966.2 669.8 L966.9 665.2 L967.6 667.2 L968.3 601.9 L969.0 738.4 L969.7 718.0 L970.4 669.3 L971.1 683.8 L971.8 597.5 L972.6 812.1 L973.3 623.9 L974.0 686.9 L974.7 666.3 L975.4 686.2 L976.1 645.7 L976.8 643.1 L977.5 664.6 L978.2 672.5 L979.0 668.0 L979.7 662.1 L980.4 717.3 L981.1 695.4 L981.8 690.5 L982.5 734.9 L983.2 745.9 L983.9 761.3 L984.6 745.1 L985.4 771.0 L986.1 735.0 L986.8 619.5 L987.5 832.6 L988.2 901.7 L988.9 879.5 L989.6 808.8 L990.3 792.0 L991.0 789.4 L991.8 777.8 L992.5 682.9 L993.2 795.5 L993.9 724.3 L994.6 832.5 L995.3 840.7 L996.0 776.1 L996.7 849.9 L997.4 812.5 L998.2 756.9 L998.9 838.3 L999.6 823.3 L1000.3 832.1 L1001.0 931.8 L1001.7 891.1 L1002.4 901.6 L1003.1 781.9 L1003.8 836.4 L1004.5 720.0 L1005.3 776.9 L1006.0 669.3 L1006.7 682.2 L1007.4 696.0 L1008.1 685.0 L1008.8 672.8 L1009.5 676.0 L1010.2 676.4 L1010.9 687.8 L1011.7 798.8 L1012.4 922.9 L1013.1 920.0 L1013.8 836.3 L1014.5 804.2 L1015.2 798.4 L1015.9 820.8 L1016.6 851.5 L1017.3 851.9 L1018.1 815.7 L1018.8 909.8 L1019.5 835.3 L1020.2 905.5 L1020.9 880.8 L1021.6 890.3 L1022.3 882.1 L1023.0 912.8 L1023.7 938.5 L1024.5 905.9 L1025.2 929.9 L1025.9 756.9 L1026.6 796.9 L1027.3 835.3 L1028.0 854.4 L1028.7 894.2 L1029.4 942.5 L1030.1 940.6 L1030.9 875.9 L1031.6 946.0 L1032.3 884.3 L1033.0 840.4 L1033.7 878.8 L1034.4 831.3 L1035.1 793.3 L1035.8 770.8 L1036.5 816.1 L1037.3 761.4 L1038.0 676.9 L1038.7 775.5 L1039.4 743.1 L1040.1 775.0 L1040.8 847.4 L1041.5 794.0 L1042.2 850.2 L1042.9 874.7 L1043.7 901.6 L1044.4 816.0 L1045.1 812.8 L1045.8 920.5 L1046.5 833.1 L1047.2 704.9 L1047.9 685.9 L1048.6 713.4 L1049.3 730.7 L1050.1 718.8 L1050.8 646.0 L1051.5 716.8 L1052.2 793.5 L1052.9 746.0 L1053.6 722.0 L1054.3 808.6 L1055.0 814.7 L1055.7 785.0 L1056.5 779.9 L1057.2 748.7 L1057.9 714.0 L1058.6 704.7 L1059.3 733.3 L1060.0 817.3 L1060.7 769.4 L1061.4 776.0 L1062.1 695.7 L1062.9 673.4 L1063.6 709.8 L1064.3 656.1 L1065.0 649.3 L1065.7 656.3 L1066.4 910.7 L1067.1 740.3 L1067.8 722.8 L1068.5 811.8 L1069.3 791.5 L1070.0 794.5 L1070.7 814.9 L1071.4 884.6 L1072.1 876.6 L1072.8 852.4 L1073.5 832.8 L1074.2 837.5 L1074.9 797.7 L1075.6 757.9 L1076.4 723.4 L1077.1 787.5 L1077.8 786.7 L1078.5 805.0 L1079.2 845.7 L1079.9 905.1 L1080.6 871.3 L1081.3 889.3 L1082.0 742.7 L1082.8 763.2 L1083.5 782.9 L1084.2 804.4 L1084.9 702.6 L1085.6 777.7 L1086.3 787.5 L1087.0 823.4 L1087.7 814.8 L1088.4 804.2 L1089.2 742.3 L1089.9 821.2 L1090.6 806.4 L1091.3 719.7 L1092.0 761.1 L1092.7 772.5 L1093.4 811.6 L1094.1 857.3 L1094.8 868.8 L1095.6 782.0 L1096.3 796.3 L1097.0 864.4 L1097.7 610.7 L1098.4 795.1 L1099.1 741.1 L1099.8 709.1 L1100.5 736.0 L1101.2 726.2 L1102.0 807.2 L1102.7 744.6 L1103.4 739.5 L1104.1 701.0 L1104.8 676.5 L1105.5 711.2 L1106.2 728.4 L1106.9 766.0 L1107.6 833.4 L1108.4 897.5 L1109.1 780.0 L1109.8 805.0 L1110.5 758.9 L1111.2 749.6 L1111.9 731.6 L1112.6 760.8 L1113.3 814.4 L1114.0 765.1 L1114.8 737.6 L1115.5 744.0 L1116.2 759.5 L1116.9 765.6 L1117.6 765.2 L1118.3 778.6 L1119.0 841.6 L1119.7 785.2 L1120.4 829.3 L1121.2 803.3 L1121.9 809.8 L1122.6 826.2 L1123.3 835.9 L1124.0 767.4 L1124.7 741.7 L1125.4 720.2 L1126.1 687.1 L1126.8 743.2 L1127.6 871.0 L1128.3 795.9 L1129.0 757.5 L1129.7 717.1 L1130.4 756.2 L1131.1 765.8 L1131.8 757.8 L1132.5 835.9 L1133.2 759.8 L1134.0 849.3 L1134.7 763.6 L1135.4 808.0 L1136.1 728.1 L1136.8 745.7 L1137.5 828.0 L1138.2 723.1 L1138.9 659.2 L1139.6 760.4 L1140.4 698.3 L1141.1 750.9 L1141.8 816.9 L1142.5 765.2 L1143.2 771.9 L1143.9 832.7 L1144.6 868.2 L1145.3 862.6 L1146.0 799.5 L1146.7 811.4 L1147.5 778.0 L1148.2 711.3 L1148.9 682.7 L1149.6 664.4 L1150.3 664.2 L1151.0 764.6 L1151.7 720.3 L1152.4 729.4 L1153.1 755.2 L1153.9 814.8 L1154.6 877.3 L1155.3 862.0 L1156.0 856.6 L1156.7 877.9 L1157.4 842.5 L1158.1 868.5 L1158.8 827.6 L1159.5 827.9 L1160.3 821.3 L1161.0 752.1 L1161.7 776.9 L1162.4 753.3 L1163.1 809.6 L1163.8 787.1 L1164.5 780.7 L1165.2 773.8 L1165.9 796.9 L1166.7 837.2 L1167.4 832.6 L1168.1 836.7 L1168.8 773.5 L1169.5 735.7 L1170.2 801.9 L1170.9 767.0 L1171.6 791.4 L1172.3 766.9 L1173.1 791.1 L1173.8 850.8 L1174.5 782.9 L1175.2 760.9 L1175.9 820.3 L1176.6 832.1 L1177.3 875.8 L1178.0 876.0 L1178.7 873.8 L1179.5 815.8 L1180.2 739.0 L1180.9 765.8 L1181.6 708.6 L1182.3 678.6 L1183.0 727.7 L1183.7 815.0 L1184.4 765.4 L1185.1 741.8 L1185.9 649.6 L1186.6 643.0 L1187.3 643.0 L1188.0 643.0 L1188.7 705.0 L1189.4 718.2 L1190.1 747.6 L1190.8 680.2 L1191.5 684.9 L1192.3 650.4 L1193.0 763.9 L1193.7 806.4 L1194.4 762.6 L1195.1 786.9 L1195.8 725.5 L1196.5 745.0 L1197.2 745.4 L1197.9 795.4 L1198.7 727.9 L1199.4 724.6 L1200.1 740.3 L1200.8 719.8 L1201.5 759.4 L1202.2 682.0 L1202.9 700.3 L1203.6 706.9 L1204.3 712.4 L1205.1 770.7 L1205.8 822.6 L1206.5 798.4 L1207.2 775.9 L1207.9 717.6 L1208.6 715.9 L1209.3 781.5 L1210.0 757.3 L1210.7 727.8 L1211.5 699.8 L1212.2 709.5 L1212.9 783.5 L1213.6 732.3 L1214.3 778.6 L1215.0 754.6 L1215.7 830.7 L1216.4 783.0 L1217.1 816.8 L1217.8 760.0 L1218.6 691.3 L1219.3 623.9 L1220.0 754.9 L1220.7 805.0 L1221.4 836.9 L1222.1 793.3 L1222.8 776.8 L1223.5 773.5 L1224.2 764.9 L1225.0 747.5 L1225.7 732.5 L1226.4 677.5 L1227.1 714.4 L1227.8 729.2 L1228.5 897.5 L1229.2 874.5 L1229.9 880.0 L1230.6 840.1 L1231.4 862.5 L1232.1 797.6 L1232.8 815.5 L1233.5 830.2 L1234.2 841.6 L1234.9 821.8 L1235.6 836.7 L1236.3 805.2 L1237.0 784.3 L1237.8 774.1 L1238.5 745.8 L1239.2 756.9 L1239.9 759.4 L1240.6 901.9 L1241.3 720.6 L1242.0 704.4 L1242.7 724.4 L1243.4 759.7 L1244.2 784.0 L1244.9 816.0 L1245.6 893.1 L1246.3 818.7 L1247.0 821.9 L1247.7 753.5 L1248.4 762.7 L1249.1 714.2 L1249.8 717.0 L1250.6 693.0 L1251.3 738.3 L1252.0 737.4 L1252.7 630.2 L1253.4 631.3 L1254.1 624.0 L1254.8 651.2 L1255.5 643.3 L1256.2 723.1 L1257.0 765.6 L1257.7 740.6 L1258.4 705.9 L1259.1 733.2 L1259.8 742.5 L1260.5 755.9 L1261.2 757.5 L1261.9 801.2 L1262.6 794.0 L1263.4 812.0 L1264.1 808.8 L1264.8 789.9 L1265.5 809.5 L1266.2 823.9 L1266.9 807.6 L1267.6 800.8 L1268.3 780.0 L1269.0 804.2 L1269.8 809.6 L1270.5 759.8 L1271.2 730.4 L1271.9 744.2 L1272.6 718.4 L1273.3 707.1 L1274.0 699.8 L1274.7 617.5 L1275.4 670.4 L1276.2 661.4 L1276.9 654.5 L1277.6 557.8 L1278.3 731.5 L1279.0 691.4 L1279.7 680.6 L1280.4 681.5 L1281.1 682.7 L1281.8 683.3 L1282.6 721.8 L1283.3 732.3 L1284.0 770.2 L1284.7 745.7 L1285.4 789.8 L1286.1 772.5 L1286.8 714.8 L1287.5 548.9 L1288.2 722.8 L1288.9 686.6 L1289.7 693.4 L1290.4 703.7 L1291.1 710.1 L1291.8 634.1 L1292.5 615.4 L1293.2 609.5 L1293.9 675.4 L1294.6 646.3 L1295.3 705.9 L1296.1 674.0 L1296.8 773.9 L1297.5 621.8 L1298.2 704.4 L1298.9 643.3 L1299.6 617.6 L1300.3 705.0 L1301.0 704.7 L1301.7 636.5 L1302.5 600.9 L1303.2 688.1 L1303.9 704.8 L1304.6 544.5 L1305.3 764.2 L1306.0 764.4 L1306.7 667.1 L1307.4 665.1 L1308.1 677.9 L1308.9 691.5 L1309.6 662.8 L1310.3 641.7 L1311.0 688.5 L1311.7 631.3 L1312.4 687.4 L1313.1 697.3 L1313.8 677.2 L1314.5 616.1 L1315.3 649.4 L1316.0 650.0 L1316.7 613.3 L1317.4 612.4 L1318.1 593.7 L1318.8 583.9 L1319.5 605.4 L1320.2 809.2 L1320.9 599.3 L1321.7 627.2 L1322.4 589.6 L1323.1 689.3 L1323.8 723.0 L1324.5 664.4 L1325.2 657.7 L1325.9 689.8 L1326.6 677.2 L1327.3 642.8 L1328.1 675.3 L1328.8 651.7 L1329.5 660.5 L1330.2 675.1 L1330.9 680.0 L1331.6 640.7 L1332.3 692.2 L1333.0 702.0 L1333.7 638.3 L1334.5 717.3 L1335.2 763.9 L1335.9 718.2 L1336.6 705.6 L1337.3 701.6 L1338.0 687.5 L1338.7 718.6 L1339.4 594.7 L1340.1 651.1 L1340.9 671.1 L1341.6 722.9 L1342.3 722.0 L1343.0 646.3 L1343.7 648.8 L1344.4 627.9 L1345.1 654.1 L1345.8 535.7 L1346.5 595.5 L1347.3 659.7 L1348.0 626.5 L1348.7 647.1 L1349.4 622.9 L1350.1 623.5 L1350.8 618.6 L1351.5 619.9 L1352.2 662.6 L1352.9 718.0 L1353.7 657.5 L1354.4 658.6 L1355.1 642.0 L1355.8 660.6 L1356.5 738.8 L1357.2 679.0 L1357.9 673.7 L1358.6 697.7 L1359.3 698.6 L1360.0 700.2 L1360.8 739.8 L1361.5 729.5 L1362.2 715.7 L1362.9 699.5 L1363.6 711.6 L1364.3 718.3 L1365.0 456.3 L1365.7 670.6 L1366.4 670.0 L1367.2 587.4 L1367.9 594.0 L1368.6 600.8 L1369.3 641.9 L1370.0 597.8 L1370.7 656.4 L1371.4 726.2 L1372.1 749.1 L1372.8 694.6 L1373.6 734.0 L1374.3 653.1 L1375.0 653.2 L1375.7 721.3 L1376.4 713.0 L1377.1 614.9 L1377.8 663.9 L1378.5 720.9 L1379.2 679.0 L1380.0 611.3 L1380.7 574.8 L1381.4 610.4 L1382.1 612.6 L1382.8 674.5 L1383.5 563.9 L1384.2 485.6 L1384.9 533.9 L1385.6 503.6 L1386.4 756.3 L1387.1 556.2 L1387.8 623.4 L1388.5 663.8 L1389.2 640.0 L1389.9 680.2 L1390.6 631.2 L1391.3 657.4 L1392.0 649.2 L1392.8 649.7 L1393.5 660.0 L1394.2 648.0 L1394.9 601.0 L1395.6 496.5 L1396.3 572.6 L1397.0 576.9 L1397.7 598.0 L1398.4 640.6 L1399.2 626.4 L1399.9 658.3 L1400.6 652.1 L1401.3 600.5 L1402.0 676.9 L1402.7 653.3 L1403.4 629.2 L1404.1 658.2 L1404.8 630.0 L1405.6 615.0 L1406.3 626.1 L1407.0 585.0 L1407.7 632.4 L1408.4 629.0 L1409.1 614.7 L1409.8 643.5 L1410.5 638.4 L1411.2 639.7 L1412.0 607.1 L1412.7 650.3 L1413.4 644.1 L1414.1 647.2 L1414.8 585.5 L1415.5 623.9 L1416.2 582.0 L1416.9 643.2 L1417.6 683.8 L1418.4 616.4 L1419.1 596.3 L1419.8 619.1 L1420.5 643.0 L1421.2 664.0 L1421.9 633.4 L1422.6 612.5 L1423.3 638.0 L1424.0 587.9 L1424.8 615.0 L1425.5 635.3 L1426.2 638.3 L1426.9 565.4 L1427.6 507.7 L1428.3 564.3 L1429.0 552.7 L1429.7 513.0 L1430.4 431.1 L1431.1 572.6 L1431.9 563.9 L1432.6 533.5 L1433.3 460.7 L1434.0 578.8 L1434.7 564.9 L1435.4 528.4 L1436.1 504.3 L1436.8 543.0 L1437.5 577.0 L1438.3 542.8 L1439.0 539.4 L1439.7 429.8 L1440.4 629.1 L1441.1 533.5 L1441.8 488.5 L1442.5 466.2 L1443.2 521.0 L1443.9 547.1 L1444.7 475.3 L1445.4 464.1 L1446.1 526.7 L1446.8 533.5 L1447.5 534.4 L1448.2 549.9 L1448.9 592.9 L1449.6 531.9 L1450.3 514.8 L1451.1 534.9 L1451.8 606.1 L1452.5 618.2 L1453.2 603.7 L1453.9 558.3 L1454.6 592.4 L1455.3 527.3 L1456.0 530.6 L1456.7 566.7 L1457.5 670.4 L1458.2 671.9 L1458.9 670.6 L1459.6 669.1 L1460.3 633.0 L1461.0 563.8 L1461.7 562.3 L1462.4 600.9 L1463.1 506.9 L1463.9 507.5 L1464.6 527.5 L1465.3 530.6 L1466.0 589.8 L1466.7 556.8 L1467.4 540.7 L1468.1 486.8 L1468.8 409.1 L1469.5 452.4 L1470.3 431.1 L1471.0 466.9 L1471.7 498.5 L1472.4 508.4 L1473.1 555.3 L1473.8 553.2 L1474.5 566.1 L1475.2 508.2 L1475.9 526.3 L1476.7 587.5 L1477.4 569.3 L1478.1 510.0 L1478.8 571.1 L1479.5 581.2 L1480.2 563.3 L1480.9 592.6 L1481.6 589.1 L1482.3 566.7 L1483.1 593.4 L1483.8 561.7 L1484.5 534.1 L1485.2 566.0 L1485.9 548.8 L1486.6 502.9 L1487.3 507.7 L1488.0 492.1 L1488.7 474.0 L1489.5 487.6 L1490.2 460.0 L1490.9 457.9 L1491.6 498.8 L1492.3 482.7 L1493.0 460.2 L1493.7 445.2 L1494.4 478.5 L1495.1 469.5 L1495.9 434.9 L1496.6 443.9 L1497.3 421.5 L1498.0 401.2 L1498.7 426.9 L1499.4 424.8 L1500.1 452.3 L1500.8 431.5 L1501.5 451.2 L1502.2 479.9 L1503.0 485.5 L1503.7 491.1 L1504.4 481.5 L1505.1 471.9 L1505.8 513.9 L1506.5 529.8 L1507.2 511.3 L1507.9 493.8 L1508.6 492.6 L1509.4 415.3 L1510.1 402.9 L1510.8 429.2 L1511.5 425.0 L1512.2 403.6 L1512.9 416.5 L1513.6 489.0 L1514.3 488.3 L1515.0 489.2 L1515.8 646.0 L1516.5 500.3 L1517.2 451.3 L1517.9 467.5 L1518.6 445.1 L1519.3 467.2 L1520.0 468.7 L1520.7 438.6 L1521.4 450.0 L1522.2 426.3 L1522.9 446.1 L1523.6 472.2 L1524.3 485.4 L1525.0 505.3 L1525.7 507.1 L1526.4 456.9 L1527.1 507.4 L1527.8 563.3 L1528.6 547.4 L1529.3 474.1 L1530.0 441.3 L1530.7 406.1 L1531.4 381.8 L1532.1 436.4 L1532.8 446.1 L1533.5 558.0 L1534.2 567.3 L1535.0 524.8 L1535.7 577.0 L1536.4 564.3 L1537.1 567.6 L1537.8 604.3 L1538.5 530.7 L1539.2 432.9 L1539.9 380.4 L1540.6 467.8 L1541.4 555.3 L1542.1 539.5 L1542.8 485.5 L1543.5 548.7 L1544.2 553.3 L1544.9 553.8 L1545.6 535.3 L1546.3 529.5 L1547.0 498.6 L1547.8 455.0 L1548.5 459.4 L1549.2 437.2 L1549.9 374.3 L1550.6 439.4 L1551.3 488.6 L1552.0 467.8 L1552.7 402.9 L1553.4 416.0 L1554.2 392.0 L1554.9 424.8 L1555.6 404.8 L1556.3 445.2 L1557.0 428.3 L1557.7 425.4 L1558.4 422.8 L1559.1 385.7 L1559.8 408.4 L1560.6 413.1 L1561.3 393.4 L1562.0 469.1 L1562.7 430.0 L1563.4 399.1 L1564.1 402.7 L1564.8 378.6 L1565.5 370.1 L1566.2 377.4 L1567.0 390.9 L1567.7 375.5 L1568.4 397.4 L1569.1 418.6 L1569.8 413.5 L1570.5 415.6 L1571.2 478.4 L1571.9 383.3 L1572.6 382.8 L1573.3 450.4 L1574.1 396.4 L1574.8 396.5 L1575.5 387.0 L1576.2 359.9 L1576.9 399.7 L1577.6 507.2 L1578.3 478.6 L1579.0 443.2 L1579.7 386.5 L1580.5 411.1 L1581.2 410.0 L1581.9 382.7 L1582.6 389.5 L1583.3 391.6 L1584.0 373.0 L1584.7 408.1 L1585.4 332.2 L1586.1 293.0 L1586.9 214.0 L1587.6 257.7 L1588.3 399.7 L1589.0 368.4 L1589.7 327.6 L1590.4 281.2 L1591.1 279.8 L1591.8 317.1 L1592.5 297.2 L1593.3 366.1 L1594.0 363.7 L1594.7 345.4 L1595.4 330.8 L1596.1 379.8 L1596.8 428.0 L1597.5 356.1 L1598.2 376.7 L1598.9 429.8 L1599.7 455.5 L1600.4 433.5 L1601.1 379.4 L1601.8 378.4 L1602.5 339.6 L1603.2 341.9 L1603.9 336.3 L1604.6 316.9 L1605.3 344.0 L1606.1 344.2 L1606.8 364.7 L1607.5 387.2 L1608.2 366.6 L1608.9 393.7 L1609.6 388.2 L1610.3 408.9 L1611.0 404.6 L1611.7 413.8 L1612.5 374.7 L1613.2 374.2 L1613.9 374.0 L1614.6 329.2 L1615.3 425.0 L1616.0 409.5 L1616.7 418.5 L1617.4 431.3" fill="none" stroke="#bababa" stroke-width="2.4" stroke-linejoin="round"/>
<path d="M169.8 828.2 L170.5 756.3 L171.3 779.4 L172.0 812.8 L172.7 838.2 L173.4 861.9 L174.1 813.9 L174.8 825.7 L175.5 788.1 L176.2 885.1 L176.9 782.3 L177.7 813.6 L178.4 786.2 L179.1 817.5 L179.8 844.6 L180.5 811.8 L181.2 777.7 L181.9 817.1 L182.6 832.3 L183.3 794.4 L184.1 860.4 L184.8 924.8 L185.5 851.9 L186.2 875.8 L186.9 953.4 L187.6 929.6 L188.3 900.2 L189.0 925.7 L189.7 953.3 L190.5 884.1 L191.2 806.7 L191.9 831.8 L192.6 870.6 L193.3 827.9 L194.0 790.7 L194.7 828.1 L195.4 800.1 L196.1 760.7 L196.9 809.4 L197.6 864.1 L198.3 827.1 L199.0 815.6 L199.7 764.9 L200.4 869.1 L201.1 883.5 L201.8 899.7 L202.5 955.1 L203.3 881.5 L204.0 826.6 L204.7 869.3 L205.4 775.9 L206.1 763.5 L206.8 768.6 L207.5 783.3 L208.2 770.6 L208.9 873.1 L209.7 821.3 L210.4 751.9 L211.1 914.8 L211.8 856.1 L212.5 861.4 L213.2 809.3 L213.9 850.8 L214.6 848.0 L215.3 828.0 L216.1 884.2 L216.8 832.2 L217.5 846.2 L218.2 821.6 L218.9 865.0 L219.6 800.2 L220.3 796.8 L221.0 837.8 L221.7 814.2 L222.4 824.0 L223.2 786.4 L223.9 884.0 L224.6 825.4 L225.3 822.3 L226.0 853.6 L226.7 921.5 L227.4 825.1 L228.1 926.4 L228.8 869.2 L229.6 800.4 L230.3 940.5 L231.0 930.8 L231.7 1034.3 L232.4 923.0 L233.1 816.5 L233.8 1034.3 L234.5 933.4 L235.2 972.5 L236.0 883.9 L236.7 797.1 L237.4 830.3 L238.1 921.4 L238.8 898.3 L239.5 908.5 L240.2 926.3 L240.9 970.1 L241.6 917.3 L242.4 897.9 L243.1 915.6 L243.8 932.7 L244.5 1013.2 L245.2 929.9 L245.9 871.9 L246.6 909.4 L247.3 1014.4 L248.0 868.1 L248.8 855.1 L249.5 820.0 L250.2 824.5 L250.9 904.4 L251.6 1014.2 L252.3 861.7 L253.0 788.0 L253.7 915.8 L254.4 938.2 L255.2 876.3 L255.9 955.2 L256.6 1056.3 L257.3 952.4 L258.0 911.3 L258.7 820.3 L259.4 860.9 L260.1 808.3 L260.8 889.5 L261.6 867.5 L262.3 1056.4 L263.0 1090.5 L263.7 1149.0 L264.4 956.4 L265.1 875.0 L265.8 838.7 L266.5 755.0 L267.2 757.2 L268.0 739.9 L268.7 827.4 L269.4 919.3 L270.1 966.0 L270.8 966.9 L271.5 1023.6 L272.2 999.1 L272.9 946.9 L273.6 891.7 L274.4 917.0 L275.1 1067.1 L275.8 976.3 L276.5 907.1 L277.2 799.4 L277.9 792.2 L278.6 894.4 L279.3 949.5 L280.0 739.5 L280.8 1118.1 L281.5 751.9 L282.2 760.7 L282.9 811.9 L283.6 813.5 L284.3 807.8 L285.0 796.3 L285.7 792.2 L286.4 819.0 L287.2 833.9 L287.9 982.6 L288.6 940.2 L289.3 968.8 L290.0 908.6 L290.7 1109.3 L291.4 848.3 L292.1 792.6 L292.8 808.4 L293.5 815.2 L294.3 836.8 L295.0 891.9 L295.7 894.4 L296.4 922.8 L297.1 863.2 L297.8 865.3 L298.5 819.4 L299.2 954.0 L299.9 836.6 L300.7 915.2 L301.4 950.2 L302.1 923.0 L302.8 939.4 L303.5 877.7 L304.2 918.0 L304.9 977.0 L305.6 887.4 L306.3 817.8 L307.1 838.2 L307.8 945.0 L308.5 901.9 L309.2 712.2 L309.9 788.9 L310.6 948.1 L311.3 865.4 L312.0 820.2 L312.7 956.2 L313.5 883.2 L314.2 792.9 L314.9 791.0 L315.6 806.3 L316.3 759.5 L317.0 798.8 L317.7 804.0 L318.4 842.8 L319.1 802.2 L319.9 905.6 L320.6 820.3 L321.3 891.7 L322.0 954.9 L322.7 877.6 L323.4 1025.4 L324.1 725.2 L324.8 834.6 L325.5 793.4 L326.3 862.9 L327.0 871.0 L327.7 858.4 L328.4 685.7 L329.1 659.2 L329.8 974.7 L330.5 969.8 L331.2 966.9 L331.9 971.9 L332.7 974.3 L333.4 659.2 L334.1 741.3 L334.8 804.0 L335.5 748.9 L336.2 825.9 L336.9 989.8 L337.6 912.0 L338.3 851.4 L339.1 888.5 L339.8 850.9 L340.5 811.9 L341.2 902.2 L341.9 993.1 L342.6 942.1 L343.3 916.3 L344.0 914.4 L344.7 811.8 L345.5 767.8 L346.2 815.7 L346.9 785.4 L347.6 752.3 L348.3 753.2 L349.0 1029.8 L349.7 824.6 L350.4 786.9 L351.1 765.7 L351.9 739.1 L352.6 831.1 L353.3 800.2 L354.0 735.9 L354.7 771.2 L355.4 858.4 L356.1 743.9 L356.8 896.0 L357.5 840.2 L358.3 851.4 L359.0 944.6 L359.7 811.1 L360.4 810.0 L361.1 921.9 L361.8 845.9 L362.5 885.0 L363.2 963.6 L363.9 986.7 L364.6 903.1 L365.4 834.2 L366.1 834.7 L366.8 843.8 L367.5 816.9 L368.2 853.6 L368.9 769.9 L369.6 803.7 L370.3 809.7 L371.0 794.6 L371.8 903.6 L372.5 932.1 L373.2 783.4 L373.9 796.2 L374.6 847.3 L375.3 827.3 L376.0 876.9 L376.7 846.5 L377.4 899.3 L378.2 857.7 L378.9 924.0 L379.6 817.1 L380.3 873.0 L381.0 946.1 L381.7 931.9 L382.4 919.7 L383.1 876.2 L383.8 946.7 L384.6 872.1 L385.3 673.6 L386.0 820.2 L386.7 812.9 L387.4 854.9 L388.1 910.7 L388.8 929.9 L389.5 901.6 L390.2 891.1 L391.0 874.2 L391.7 748.2 L392.4 848.6 L393.1 837.0 L393.8 672.1 L394.5 796.2 L395.2 883.3 L395.9 865.4 L396.6 855.5 L397.4 787.1 L398.1 800.1 L398.8 865.1 L399.5 828.9 L400.2 1016.6 L400.9 648.7 L401.6 741.4 L402.3 861.7 L403.0 883.5 L403.8 798.8 L404.5 804.2 L405.2 678.4 L405.9 674.7 L406.6 675.0 L407.3 623.9 L408.0 753.5 L408.7 588.6 L409.4 690.7 L410.2 646.0 L410.9 772.1 L411.6 708.0 L412.3 743.2 L413.0 779.1 L413.7 840.5 L414.4 879.9 L415.1 874.9 L415.8 876.1 L416.6 859.2 L417.3 813.5 L418.0 834.3 L418.7 779.6 L419.4 785.7 L420.1 792.7 L420.8 904.7 L421.5 905.7 L422.2 847.0 L423.0 761.7 L423.7 710.3 L424.4 710.5 L425.1 829.7 L425.8 904.8 L426.5 867.6 L427.2 853.7 L427.9 798.3 L428.6 826.0 L429.4 822.2 L430.1 908.9 L430.8 852.7 L431.5 870.0 L432.2 837.8 L432.9 815.6 L433.6 834.1 L434.3 821.1 L435.0 831.6 L435.7 797.2 L436.5 792.9 L437.2 844.9 L437.9 873.7 L438.6 768.5 L439.3 809.7 L440.0 774.7 L440.7 794.2 L441.4 843.7 L442.1 882.1 L442.9 707.8 L443.6 837.7 L444.3 809.3 L445.0 891.6 L445.7 899.5 L446.4 878.0 L447.1 858.0 L447.8 933.2 L448.5 868.3 L449.3 885.4 L450.0 844.4 L450.7 870.9 L451.4 840.6 L452.1 763.5 L452.8 786.0 L453.5 793.8 L454.2 801.1 L454.9 862.7 L455.7 828.4 L456.4 849.6 L457.1 891.8 L457.8 874.4 L458.5 875.6 L459.2 826.4 L459.9 842.4 L460.6 876.3 L461.3 779.1 L462.1 774.2 L462.8 751.1 L463.5 773.7 L464.2 809.0 L464.9 865.6 L465.6 881.4 L466.3 827.6 L467.0 843.4 L467.7 934.3 L468.5 999.0 L469.2 966.6 L469.9 916.7 L470.6 961.9 L471.3 989.4 L472.0 933.9 L472.7 915.9 L473.4 988.6 L474.1 913.7 L474.9 788.5 L475.6 915.7 L476.3 814.0 L477.0 839.4 L477.7 920.9 L478.4 921.8 L479.1 987.8 L479.8 882.8 L480.5 869.9 L481.3 948.7 L482.0 933.8 L482.7 1001.0 L483.4 976.8 L484.1 898.7 L484.8 993.4 L485.5 1043.1 L486.2 939.6 L486.9 872.2 L487.7 820.0 L488.4 886.6 L489.1 936.4 L489.8 898.7 L490.5 921.7 L491.2 930.3 L491.9 858.6 L492.6 786.2 L493.3 825.0 L494.1 870.0 L494.8 850.6 L495.5 977.4 L496.2 938.8 L496.9 976.9 L497.6 799.4 L498.3 799.8 L499.0 832.4 L499.7 868.5 L500.5 1022.9 L501.2 914.8 L501.9 802.0 L502.6 881.4 L503.3 729.8 L504.0 812.3 L504.7 935.1 L505.4 818.0 L506.1 776.2 L506.8 806.0 L507.6 839.4 L508.3 803.6 L509.0 930.0 L509.7 894.5 L510.4 814.5 L511.1 917.6 L511.8 830.6 L512.5 873.8 L513.2 1000.9 L514.0 944.5 L514.7 968.8 L515.4 901.9 L516.1 958.7 L516.8 852.7 L517.5 906.4 L518.2 868.5 L518.9 906.4 L519.6 910.5 L520.4 822.1 L521.1 834.3 L521.8 877.4 L522.5 951.2 L523.2 848.6 L523.9 819.8 L524.6 866.9 L525.3 859.2 L526.0 929.0 L526.8 965.4 L527.5 974.1 L528.2 911.7 L528.9 882.3 L529.6 925.9 L530.3 866.0 L531.0 832.2 L531.7 848.7 L532.4 810.1 L533.2 863.2 L533.9 882.3 L534.6 860.8 L535.3 877.4 L536.0 842.0 L536.7 1126.9 L537.4 839.4 L538.1 907.2 L538.8 910.9 L539.6 977.0 L540.3 908.7 L541.0 837.6 L541.7 810.6 L542.4 808.8 L543.1 930.6 L543.8 955.8 L544.5 952.8 L545.2 975.2 L546.0 882.2 L546.7 879.4 L547.4 888.2 L548.1 865.6 L548.8 929.2 L549.5 961.4 L550.2 944.2 L550.9 910.3 L551.6 881.6 L552.4 852.0 L553.1 806.9 L553.8 908.9 L554.5 935.1 L555.2 902.4 L555.9 971.1 L556.6 960.7 L557.3 863.1 L558.0 803.4 L558.8 805.1 L559.5 815.3 L560.2 854.4 L560.9 795.5 L561.6 852.5 L562.3 838.7 L563.0 768.0 L563.7 835.8 L564.4 888.1 L565.2 877.5 L565.9 831.5 L566.6 813.1 L567.3 823.8 L568.0 806.2 L568.7 934.3 L569.4 747.5 L570.1 973.0 L570.8 942.3 L571.6 994.3 L572.3 959.0 L573.0 1004.3 L573.7 947.1 L574.4 975.6 L575.1 901.2 L575.8 757.1 L576.5 809.1 L577.2 751.7 L577.9 768.0 L578.7 881.7 L579.4 883.7 L580.1 934.2 L580.8 842.6 L581.5 1047.5 L582.2 799.9 L582.9 783.3 L583.6 946.6 L584.3 850.1 L585.1 747.7 L585.8 844.8 L586.5 782.8 L587.2 928.0 L587.9 875.7 L588.6 968.5 L589.3 883.6 L590.0 979.4 L590.7 1012.0 L591.5 952.3 L592.2 765.1 L592.9 839.4 L593.6 793.6 L594.3 812.1 L595.0 725.4 L595.7 812.2 L596.4 732.3 L597.1 857.6 L597.9 821.2 L598.6 814.2 L599.3 911.9 L600.0 792.2 L600.7 744.9 L601.4 826.5 L602.1 741.3 L602.8 734.2 L603.5 826.8 L604.3 757.6 L605.0 789.6 L605.7 802.7 L606.4 743.8 L607.1 777.7 L607.8 770.9 L608.5 871.1 L609.2 952.2 L609.9 794.2 L610.7 911.0 L611.4 886.2 L612.1 937.1 L612.8 919.8 L613.5 967.7 L614.2 845.3 L614.9 914.7 L615.6 908.0 L616.3 908.6 L617.1 839.3 L617.8 934.6 L618.5 918.3 L619.2 919.1 L619.9 827.0 L620.6 867.9 L621.3 906.5 L622.0 894.1 L622.7 918.3 L623.5 891.5 L624.2 905.5 L624.9 940.9 L625.6 931.1 L626.3 907.8 L627.0 860.6 L627.7 880.6 L628.4 885.5 L629.1 834.7 L629.9 973.7 L630.6 1043.1 L631.3 1044.9 L632.0 1000.6 L632.7 858.9 L633.4 875.1 L634.1 847.4 L634.8 897.6 L635.5 1028.1 L636.3 999.5 L637.0 979.9 L637.7 954.0 L638.4 1007.3 L639.1 927.1 L639.8 1003.3 L640.5 924.2 L641.2 865.6 L641.9 933.6 L642.7 987.5 L643.4 1043.1 L644.1 984.3 L644.8 926.3 L645.5 987.5 L646.2 930.7 L646.9 931.4 L647.6 955.7 L648.3 990.5 L649.0 958.6 L649.8 1037.6 L650.5 1008.5 L651.2 997.7 L651.9 942.8 L652.6 999.8 L653.3 897.1 L654.0 931.3 L654.7 988.1 L655.4 905.6 L656.2 846.5 L656.9 897.3 L657.6 957.9 L658.3 950.9 L659.0 1005.1 L659.7 977.9 L660.4 892.4 L661.1 897.1 L661.8 910.9 L662.6 909.7 L663.3 927.4 L664.0 896.6 L664.7 877.5 L665.4 923.3 L666.1 927.7 L666.8 825.5 L667.5 857.9 L668.2 903.7 L669.0 828.2 L669.7 877.8 L670.4 956.2 L671.1 920.0 L671.8 971.1 L672.5 981.7 L673.2 950.0 L673.9 952.6 L674.6 983.2 L675.4 990.8 L676.1 997.0 L676.8 868.9 L677.5 1034.3 L678.2 979.4 L678.9 868.3 L679.6 924.9 L680.3 862.2 L681.0 834.3 L681.8 886.5 L682.5 975.4 L683.2 938.6 L683.9 907.1 L684.6 921.6 L685.3 898.7 L686.0 858.8 L686.7 827.0 L687.4 1034.3 L688.2 862.0 L688.9 885.7 L689.6 934.1 L690.3 950.1 L691.0 854.9 L691.7 842.5 L692.4 967.3 L693.1 949.6 L693.8 949.9 L694.6 1051.9 L695.3 968.9 L696.0 1023.9 L696.7 944.1 L697.4 984.7 L698.1 980.6 L698.8 989.4 L699.5 1000.4 L700.2 935.4 L701.0 915.3 L701.7 954.8 L702.4 990.5 L703.1 987.7 L703.8 915.8 L704.5 915.0 L705.2 908.8 L705.9 932.1 L706.6 941.4 L707.4 922.8 L708.1 1013.8 L708.8 892.8 L709.5 942.7 L710.2 963.7 L710.9 870.1 L711.6 874.6 L712.3 885.5 L713.0 924.4 L713.8 999.2 L714.5 947.0 L715.2 859.6 L715.9 923.7 L716.6 833.0 L717.3 919.8 L718.0 947.4 L718.7 828.2 L719.4 886.3 L720.1 841.7 L720.9 899.4 L721.6 949.9 L722.3 970.0 L723.0 962.7 L723.7 1003.4 L724.4 984.3 L725.1 953.6 L725.8 957.7 L726.5 981.1 L727.3 809.7 L728.0 886.2 L728.7 958.7 L729.4 840.5 L730.1 833.2 L730.8 891.4 L731.5 976.6 L732.2 997.2 L732.9 880.9 L733.7 902.9 L734.4 946.7 L735.1 927.4 L735.8 846.8 L736.5 951.5 L737.2 955.9 L737.9 952.1 L738.6 820.2 L739.3 744.7 L740.1 793.8 L740.8 858.9 L741.5 1078.4 L742.2 999.1 L742.9 959.8 L743.6 1019.4 L744.3 1003.5 L745.0 998.4 L745.7 1018.0 L746.5 959.5 L747.2 918.5 L747.9 915.4 L748.6 973.2 L749.3 925.6 L750.0 936.7 L750.7 876.6 L751.4 946.8 L752.1 1025.8 L752.9 1044.0 L753.6 885.0 L754.3 877.2 L755.0 906.1 L755.7 865.9 L756.4 861.0 L757.1 859.4 L757.8 909.3 L758.5 906.5 L759.3 897.3 L760.0 936.5 L760.7 984.9 L761.4 944.3 L762.1 840.5 L762.8 849.1 L763.5 841.9 L764.2 836.2 L764.9 770.9 L765.7 773.6 L766.4 763.1 L767.1 760.4 L767.8 778.0 L768.5 808.7 L769.2 782.8 L769.9 769.9 L770.6 777.5 L771.3 801.6 L772.1 830.5 L772.8 918.6 L773.5 842.6 L774.2 872.6 L774.9 969.8 L775.6 941.1 L776.3 943.5 L777.0 962.0 L777.7 955.1 L778.5 972.5 L779.2 875.9 L779.9 953.9 L780.6 907.5 L781.3 864.2 L782.0 790.7 L782.7 775.5 L783.4 802.3 L784.1 825.9 L784.9 846.8 L785.6 796.8 L786.3 859.8 L787.0 836.0 L787.7 853.3 L788.4 846.1 L789.1 867.2 L789.8 757.5 L790.5 833.8 L791.2 832.8 L792.0 830.8 L792.7 812.6 L793.4 809.5 L794.1 808.7 L794.8 780.4 L795.5 886.2 L796.2 874.1 L796.9 927.5 L797.6 887.2 L798.4 931.8 L799.1 947.1 L799.8 912.3 L800.5 821.1 L801.2 701.6 L801.9 810.5 L802.6 760.7 L803.3 841.4 L804.0 942.2 L804.8 924.1 L805.5 906.2 L806.2 826.4 L806.9 738.2 L807.6 841.7 L808.3 733.2 L809.0 726.4 L809.7 710.0 L810.4 758.6 L811.2 727.2 L811.9 747.3 L812.6 805.8 L813.3 814.5 L814.0 882.5 L814.7 846.0 L815.4 848.2 L816.1 831.2 L816.8 819.8 L817.6 869.8 L818.3 804.5 L819.0 685.7 L819.7 814.1 L820.4 887.9 L821.1 852.4 L821.8 879.6 L822.5 860.5 L823.2 877.6 L824.0 951.9 L824.7 952.4 L825.4 903.0 L826.1 873.9 L826.8 905.6 L827.5 953.4 L828.2 952.4 L828.9 914.4 L829.6 909.5 L830.4 914.3 L831.1 844.3 L831.8 884.9 L832.5 776.8 L833.2 839.3 L833.9 832.1 L834.6 860.2 L835.3 899.9 L836.0 831.9 L836.8 826.4 L837.5 849.1 L838.2 775.4 L838.9 760.2 L839.6 746.4 L840.3 721.5 L841.0 728.6 L841.7 826.1 L842.4 844.3 L843.2 789.2 L843.9 839.8 L844.6 832.2 L845.3 1012.2 L846.0 746.8 L846.7 714.7 L847.4 714.3 L848.1 766.0 L848.8 744.5 L849.6 749.9 L850.3 786.4 L851.0 735.1 L851.7 745.5 L852.4 812.5 L853.1 755.0 L853.8 793.9 L854.5 709.9 L855.2 868.8 L856.0 851.8 L856.7 886.9 L857.4 859.4 L858.1 960.7 L858.8 807.0 L859.5 681.3 L860.2 809.2 L860.9 759.3 L861.6 789.5 L862.3 776.4 L863.1 861.4 L863.8 836.1 L864.5 851.0 L865.2 814.5 L865.9 807.9 L866.6 882.3 L867.3 951.4 L868.0 952.0 L868.7 864.2 L869.5 690.1 L870.2 728.4 L870.9 911.8 L871.6 962.3 L872.3 962.3 L873.0 929.2 L873.7 917.7 L874.4 861.9 L875.1 854.2 L875.9 901.1 L876.6 914.4 L877.3 870.2 L878.0 846.5 L878.7 839.2 L879.4 713.8 L880.1 766.6 L880.8 779.2 L881.5 844.9 L882.3 852.2 L883.0 810.5 L883.7 782.1 L884.4 802.3 L885.1 785.6 L885.8 792.9 L886.5 899.9 L887.2 961.3 L887.9 830.1 L888.7 778.2 L889.4 793.3 L890.1 892.8 L890.8 929.7 L891.5 810.4 L892.2 960.4 L892.9 920.0 L893.6 829.8 L894.3 813.0 L895.1 768.8 L895.8 690.1 L896.5 745.6 L897.2 773.2 L897.9 859.8 L898.6 823.0 L899.3 735.6 L900.0 763.4 L900.7 718.8 L901.5 779.1 L902.2 853.1 L902.9 753.6 L903.6 753.7 L904.3 723.1 L905.0 722.9 L905.7 814.7 L906.4 872.0 L907.1 854.4 L907.9 798.3 L908.6 767.1 L909.3 854.9 L910.0 819.0 L910.7 806.1 L911.4 793.7 L912.1 791.8 L912.8 800.0 L913.5 761.3 L914.3 762.2 L915.0 757.1 L915.7 803.2 L916.4 772.7 L917.1 781.2 L917.8 893.5 L918.5 823.3 L919.2 819.3 L919.9 752.7 L920.7 768.8 L921.4 775.0 L922.1 762.1 L922.8 765.6 L923.5 790.3 L924.2 876.4 L924.9 738.3 L925.6 831.3 L926.3 626.6 L927.1 767.3 L927.8 745.6 L928.5 722.0 L929.2 696.3 L929.9 654.4 L930.6 677.7 L931.3 613.1 L932.0 684.6 L932.7 698.5 L933.4 737.5 L934.2 770.9 L934.9 749.0 L935.6 675.4 L936.3 738.7 L937.0 777.9 L937.7 579.8 L938.4 726.3 L939.1 623.5 L939.8 616.5 L940.6 651.3 L941.3 700.1 L942.0 703.5 L942.7 724.1 L943.4 794.2 L944.1 765.4 L944.8 764.8 L945.5 763.0 L946.2 829.2 L947.0 674.1 L947.7 660.2 L948.4 639.7 L949.1 698.6 L949.8 754.4 L950.5 754.5 L951.2 729.6 L951.9 740.4 L952.6 739.5 L953.4 686.0 L954.1 681.9 L954.8 736.5 L955.5 754.9 L956.2 760.5 L956.9 732.3 L957.6 773.6 L958.3 755.5 L959.0 705.7 L959.8 703.0 L960.5 741.7 L961.2 753.2 L961.9 728.6 L962.6 697.9 L963.3 663.5 L964.0 683.7 L964.7 787.1 L965.4 670.1 L966.2 669.8 L966.9 665.2 L967.6 667.2 L968.3 601.9 L969.0 738.4 L969.7 718.0 L970.4 669.3 L971.1 683.8 L971.8 597.5 L972.6 812.1 L973.3 623.9 L974.0 686.9 L974.7 666.3 L975.4 686.2 L976.1 645.7 L976.8 643.1 L977.5 664.6 L978.2 672.5 L979.0 668.0 L979.7 662.1 L980.4 717.3 L981.1 695.4 L981.8 690.5 L982.5 734.9 L983.2 745.9 L983.9 761.3 L984.6 745.1 L985.4 771.0 L986.1 735.0 L986.8 619.5 L987.5 832.6 L988.2 901.7 L988.9 879.5 L989.6 808.8 L990.3 792.0 L991.0 789.4 L991.8 777.8 L992.5 682.9 L993.2 795.5 L993.9 724.3 L994.6 832.5 L995.3 840.7 L996.0 776.1 L996.7 849.9 L997.4 812.5 L998.2 756.9 L998.9 838.3 L999.6 823.3 L1000.3 832.1 L1001.0 931.8 L1001.7 891.1 L1002.4 901.6 L1003.1 781.9 L1003.8 836.4 L1004.5 720.0 L1005.3 776.9 L1006.0 669.3 L1006.7 682.2 L1007.4 696.0 L1008.1 685.0 L1008.8 672.8 L1009.5 676.0 L1010.2 676.4 L1010.9 687.8 L1011.7 798.8 L1012.4 922.9 L1013.1 920.0 L1013.8 836.3 L1014.5 804.2 L1015.2 798.4 L1015.9 820.8 L1016.6 851.5 L1017.3 851.9 L1018.1 815.7 L1018.8 909.8 L1019.5 835.3 L1020.2 905.5 L1020.9 880.8 L1021.6 890.3 L1022.3 882.1 L1023.0 912.8 L1023.7 938.5 L1024.5 905.9 L1025.2 929.9 L1025.9 756.9 L1026.6 796.9 L1027.3 835.3 L1028.0 854.4 L1028.7 894.2 L1029.4 942.5 L1030.1 940.6 L1030.9 875.9 L1031.6 946.0 L1032.3 884.3 L1033.0 840.4 L1033.7 878.8 L1034.4 831.3 L1035.1 793.3 L1035.8 770.8 L1036.5 816.1 L1037.3 761.4 L1038.0 676.9 L1038.7 775.5 L1039.4 743.1 L1040.1 775.0 L1040.8 847.4 L1041.5 794.0 L1042.2 850.2 L1042.9 874.7 L1043.7 901.6 L1044.4 816.0 L1045.1 812.8 L1045.8 920.5 L1046.5 833.1 L1047.2 704.9 L1047.9 685.9 L1048.6 713.4 L1049.3 730.7 L1050.1 718.8 L1050.8 646.0 L1051.5 716.8 L1052.2 793.5 L1052.9 746.0 L1053.6 722.0 L1054.3 808.6 L1055.0 814.7 L1055.7 785.0 L1056.5 779.9 L1057.2 748.7 L1057.9 714.0 L1058.6 704.7 L1059.3 733.3 L1060.0 817.3 L1060.7 769.4 L1061.4 776.0 L1062.1 695.7 L1062.9 673.4 L1063.6 709.8 L1064.3 656.1 L1065.0 649.3 L1065.7 656.3 L1066.4 910.7 L1067.1 740.3 L1067.8 722.8 L1068.5 811.8 L1069.3 791.5 L1070.0 794.5 L1070.7 814.9 L1071.4 884.6 L1072.1 876.6 L1072.8 852.4 L1073.5 832.8 L1074.2 837.5 L1074.9 797.7 L1075.6 757.9 L1076.4 723.4 L1077.1 787.5 L1077.8 786.7 L1078.5 805.0 L1079.2 845.7 L1079.9 905.1 L1080.6 871.3 L1081.3 889.3 L1082.0 742.7 L1082.8 763.2 L1083.5 782.9 L1084.2 804.4 L1084.9 702.6 L1085.6 777.7 L1086.3 787.5 L1087.0 823.4 L1087.7 814.8 L1088.4 804.2 L1089.2 742.3 L1089.9 821.2 L1090.6 806.4 L1091.3 719.7 L1092.0 761.1 L1092.7 772.5 L1093.4 811.6 L1094.1 857.3 L1094.8 868.8 L1095.6 782.0 L1096.3 796.3 L1097.0 864.4 L1097.7 610.7 L1098.4 795.1 L1099.1 741.1 L1099.8 709.1 L1100.5 736.0 L1101.2 726.2 L1102.0 807.2 L1102.7 744.6 L1103.4 739.5 L1104.1 701.0 L1104.8 676.5 L1105.5 711.2 L1106.2 728.4 L1106.9 766.0 L1107.6 833.4 L1108.4 897.5 L1109.1 780.0 L1109.8 805.0 L1110.5 758.9 L1111.2 749.6 L1111.9 731.6 L1112.6 760.8 L1113.3 814.4 L1114.0 765.1 L1114.8 737.6 L1115.5 744.0 L1116.2 759.5 L1116.9 765.6 L1117.6 765.2 L1118.3 778.6 L1119.0 841.6 L1119.7 785.2 L1120.4 829.3 L1121.2 803.3 L1121.9 809.8 L1122.6 826.2 L1123.3 835.9 L1124.0 767.4 L1124.7 741.7 L1125.4 720.2 L1126.1 687.1 L1126.8 743.2 L1127.6 871.0 L1128.3 795.9 L1129.0 757.5 L1129.7 717.1 L1130.4 756.2 L1131.1 765.8 L1131.8 757.8 L1132.5 835.9 L1133.2 759.8 L1134.0 849.3 L1134.7 763.6 L1135.4 808.0 L1136.1 728.1 L1136.8 745.7 L1137.5 828.0 L1138.2 723.1 L1138.9 659.2 L1139.6 760.4 L1140.4 698.3 L1141.1 750.9 L1141.8 816.9 L1142.5 765.2 L1143.2 771.9 L1143.9 832.7 L1144.6 868.2 L1145.3 862.6 L1146.0 799.5 L1146.7 811.4 L1147.5 778.0 L1148.2 711.3 L1148.9 682.7 L1149.6 664.4 L1150.3 664.2 L1151.0 764.6 L1151.7 720.3 L1152.4 729.4 L1153.1 755.2 L1153.9 814.8 L1154.6 877.3 L1155.3 862.0 L1156.0 856.6 L1156.7 877.9 L1157.4 842.5 L1158.1 868.5 L1158.8 827.6 L1159.5 827.9 L1160.3 821.3 L1161.0 752.1 L1161.7 776.9 L1162.4 753.3 L1163.1 809.6 L1163.8 787.1 L1164.5 780.7 L1165.2 773.8 L1165.9 796.9 L1166.7 837.2 L1167.4 832.6 L1168.1 836.7 L1168.8 773.5 L1169.5 735.7 L1170.2 801.9 L1170.9 767.0 L1171.6 791.4 L1172.3 766.9 L1173.1 791.1 L1173.8 850.8 L1174.5 782.9 L1175.2 760.9 L1175.9 820.3 L1176.6 832.1 L1177.3 875.8 L1178.0 876.0 L1178.7 873.8 L1179.5 815.8 L1180.2 739.0 L1180.9 765.8 L1181.6 708.6 L1182.3 678.6 L1183.0 727.7 L1183.7 815.0 L1184.4 765.4 L1185.1 741.8 L1185.9 649.6 L1186.6 643.0 L1187.3 643.0 L1188.0 643.0 L1188.7 705.0 L1189.4 718.2 L1190.1 747.6 L1190.8 680.2 L1191.5 684.9 L1192.3 650.4 L1193.0 763.9 L1193.7 806.4 L1194.4 762.6 L1195.1 786.9 L1195.8 725.5 L1196.5 745.0 L1197.2 745.4 L1197.9 795.4 L1198.7 727.9 L1199.4 724.6 L1200.1 740.3 L1200.8 719.8 L1201.5 759.4 L1202.2 682.0 L1202.9 700.3 L1203.6 706.9 L1204.3 712.4 L1205.1 770.7 L1205.8 822.6 L1206.5 798.4 L1207.2 775.9 L1207.9 717.6 L1208.6 715.9 L1209.3 781.5 L1210.0 757.3 L1210.7 727.8 L1211.5 699.8 L1212.2 709.5 L1212.9 783.5 L1213.6 732.3 L1214.3 778.6 L1215.0 754.6 L1215.7 830.7 L1216.4 783.0 L1217.1 816.8 L1217.8 760.0 L1218.6 691.3 L1219.3 623.9 L1220.0 754.9 L1220.7 805.0 L1221.4 836.9 L1222.1 793.3 L1222.8 776.8 L1223.5 773.5 L1224.2 764.9 L1225.0 747.5 L1225.7 732.5 L1226.4 677.5 L1227.1 714.4 L1227.8 729.2 L1228.5 897.5 L1229.2 874.5 L1229.9 880.0 L1230.6 840.1 L1231.4 862.5 L1232.1 797.6 L1232.8 815.5 L1233.5 830.2 L1234.2 841.6 L1234.9 821.8 L1235.6 836.7 L1236.3 805.2 L1237.0 784.3 L1237.8 774.1 L1238.5 745.8 L1239.2 756.9 L1239.9 759.4 L1240.6 901.9 L1241.3 720.6 L1242.0 704.4 L1242.7 724.4 L1243.4 759.7 L1244.2 784.0 L1244.9 816.0 L1245.6 893.1 L1246.3 818.7 L1247.0 821.9 L1247.7 753.5 L1248.4 762.7 L1249.1 714.2 L1249.8 717.0 L1250.6 693.0 L1251.3 738.3 L1252.0 737.4 L1252.7 630.2 L1253.4 631.3 L1254.1 624.0 L1254.8 651.2 L1255.5 643.3 L1256.2 723.1 L1257.0 765.6 L1257.7 740.6 L1258.4 705.9 L1259.1 733.2 L1259.8 742.5 L1260.5 755.9 L1261.2 757.5 L1261.9 801.2 L1262.6 794.0 L1263.4 812.0 L1264.1 808.8 L1264.8 789.9 L1265.5 809.5 L1266.2 823.9 L1266.9 807.6 L1267.6 800.8 L1268.3 780.0 L1269.0 804.2 L1269.8 809.6 L1270.5 759.8 L1271.2 730.4 L1271.9 744.2 L1272.6 718.4 L1273.3 707.1 L1274.0 699.8 L1274.7 617.5 L1275.4 670.4 L1276.2 661.4 L1276.9 654.5 L1277.6 557.8 L1278.3 731.5 L1279.0 691.4 L1279.7 680.6 L1280.4 681.5 L1281.1 682.7 L1281.8 683.3 L1282.6 721.8 L1283.3 732.3 L1284.0 770.2 L1284.7 745.7 L1285.4 789.8 L1286.1 772.5 L1286.8 714.8 L1287.5 548.9 L1288.2 722.8 L1288.9 686.6 L1289.7 693.4 L1290.4 703.7 L1291.1 710.1 L1291.8 634.1 L1292.5 615.4 L1293.2 609.5 L1293.9 675.4 L1294.6 646.3 L1295.3 705.9 L1296.1 674.0 L1296.8 773.9 L1297.5 621.8 L1298.2 704.4 L1298.9 643.3 L1299.6 617.6 L1300.3 705.0 L1301.0 704.7 L1301.7 636.5 L1302.5 600.9 L1303.2 688.1 L1303.9 704.8 L1304.6 544.5 L1305.3 764.2 L1306.0 764.4 L1306.7 667.1 L1307.4 665.1 L1308.1 677.9 L1308.9 691.5 L1309.6 662.8 L1310.3 641.7 L1311.0 688.5 L1311.7 631.3 L1312.4 687.4 L1313.1 697.3 L1313.8 677.2 L1314.5 616.1 L1315.3 649.4 L1316.0 650.0 L1316.7 613.3 L1317.4 612.4 L1318.1 593.7 L1318.8 583.9 L1319.5 605.4 L1320.2 809.2 L1320.9 599.3 L1321.7 627.2 L1322.4 589.6 L1323.1 689.3 L1323.8 723.0 L1324.5 664.4 L1325.2 657.7 L1325.9 689.8 L1326.6 677.2 L1327.3 642.8 L1328.1 675.3 L1328.8 651.7 L1329.5 660.5 L1330.2 675.1 L1330.9 680.0 L1331.6 640.7 L1332.3 692.2 L1333.0 702.0 L1333.7 638.3 L1334.5 717.3 L1335.2 763.9 L1335.9 718.2 L1336.6 705.6 L1337.3 701.6 L1338.0 687.5 L1338.7 718.6 L1339.4 594.7 L1340.1 651.1 L1340.9 671.1 L1341.6 722.9 L1342.3 722.0 L1343.0 646.3 L1343.7 648.8 L1344.4 627.9 L1345.1 654.1 L1345.8 535.7 L1346.5 595.5 L1347.3 659.7 L1348.0 626.5 L1348.7 647.1 L1349.4 622.9 L1350.1 623.5 L1350.8 618.6 L1351.5 619.9 L1352.2 662.6 L1352.9 718.0 L1353.7 657.5 L1354.4 658.6 L1355.1 642.0 L1355.8 660.6 L1356.5 738.8 L1357.2 679.0 L1357.9 673.7 L1358.6 697.7 L1359.3 698.6 L1360.0 700.2 L1360.8 739.8 L1361.5 729.5 L1362.2 715.7 L1362.9 699.5 L1363.6 711.6 L1364.3 718.3 L1365.0 456.3 L1365.7 670.6 L1366.4 670.0 L1367.2 587.4 L1367.9 594.0 L1368.6 600.8 L1369.3 641.9 L1370.0 597.8 L1370.7 656.4 L1371.4 726.2 L1372.1 749.1 L1372.8 694.6 L1373.6 734.0 L1374.3 653.1 L1375.0 653.2 L1375.7 721.3 L1376.4 713.0 L1377.1 614.9 L1377.8 663.9 L1378.5 720.9 L1379.2 679.0 L1380.0 611.3 L1380.7 574.8 L1381.4 610.4 L1382.1 612.6 L1382.8 674.5 L1383.5 563.9 L1384.2 485.6 L1384.9 533.9 L1385.6 503.6 L1386.4 756.3 L1387.1 556.2 L1387.8 623.4 L1388.5 663.8 L1389.2 640.0 L1389.9 680.2 L1390.6 631.2 L1391.3 657.4 L1392.0 649.2 L1392.8 649.7 L1393.5 660.0 L1394.2 648.0 L1394.9 601.0 L1395.6 496.5 L1396.3 572.6 L1397.0 576.9 L1397.7 598.0 L1398.4 640.6 L1399.2 626.4 L1399.9 658.3 L1400.6 652.1 L1401.3 600.5 L1402.0 676.9 L1402.7 653.3 L1403.4 629.2 L1404.1 658.2 L1404.8 630.0 L1405.6 615.0 L1406.3 626.1 L1407.0 585.0 L1407.7 632.4 L1408.4 629.0 L1409.1 614.7 L1409.8 643.5 L1410.5 638.4 L1411.2 639.7 L1412.0 607.1 L1412.7 650.3 L1413.4 644.1 L1414.1 647.2 L1414.8 585.5 L1415.5 623.9 L1416.2 582.0 L1416.9 643.2 L1417.6 683.8 L1418.4 616.4 L1419.1 596.3 L1419.8 619.1 L1420.5 643.0 L1421.2 664.0 L1421.9 633.4 L1422.6 612.5 L1423.3 638.0 L1424.0 587.9 L1424.8 615.0 L1425.5 635.3 L1426.2 638.3 L1426.9 565.4 L1427.6 507.7 L1428.3 564.3 L1429.0 552.7 L1429.7 513.0 L1430.4 431.1 L1431.1 572.6 L1431.9 563.9 L1432.6 533.5 L1433.3 460.7 L1434.0 578.8 L1434.7 564.9 L1435.4 528.4 L1436.1 504.3 L1436.8 543.0 L1437.5 577.0 L1438.3 542.8 L1439.0 539.4 L1439.7 429.8 L1440.4 629.1 L1441.1 533.5 L1441.8 488.5 L1442.5 466.2 L1443.2 521.0 L1443.9 547.1 L1444.7 475.3 L1445.4 464.1 L1446.1 526.7 L1446.8 533.5 L1447.5 534.4 L1448.2 549.9 L1448.9 592.9 L1449.6 531.9 L1450.3 514.8 L1451.1 534.9 L1451.8 606.1 L1452.5 618.2 L1453.2 603.7 L1453.9 558.3 L1454.6 592.4 L1455.3 527.3 L1456.0 530.6 L1456.7 566.7 L1457.5 670.4 L1458.2 671.9 L1458.9 670.6 L1459.6 669.1 L1460.3 633.0 L1461.0 563.8 L1461.7 562.3 L1462.4 600.9 L1463.1 506.9 L1463.9 507.5 L1464.6 527.5 L1465.3 530.6 L1466.0 589.8 L1466.7 556.8 L1467.4 540.7 L1468.1 486.8 L1468.8 409.1 L1469.5 452.4 L1470.3 431.1 L1471.0 466.9 L1471.7 498.5 L1472.4 508.4 L1473.1 555.3 L1473.8 553.2 L1474.5 566.1 L1475.2 508.2 L1475.9 526.3 L1476.7 587.5 L1477.4 569.3 L1478.1 510.0 L1478.8 571.1 L1479.5 581.2 L1480.2 563.3 L1480.9 592.6 L1481.6 589.1 L1482.3 566.7 L1483.1 593.4 L1483.8 561.7 L1484.5 534.1 L1485.2 566.0 L1485.9 548.8 L1486.6 502.9 L1487.3 507.7 L1488.0 492.1 L1488.7 474.0 L1489.5 487.6 L1490.2 460.0 L1490.9 457.9 L1491.6 498.8 L1492.3 482.7 L1493.0 460.2 L1493.7 445.2 L1494.4 478.5 L1495.1 469.5 L1495.9 434.9 L1496.6 443.9 L1497.3 421.5 L1498.0 401.2 L1498.7 426.9 L1499.4 424.8 L1500.1 452.3 L1500.8 431.5 L1501.5 451.2 L1502.2 479.9 L1503.0 485.5 L1503.7 491.1 L1504.4 481.5 L1505.1 471.9 L1505.8 513.9 L1506.5 529.8 L1507.2 511.3 L1507.9 493.8 L1508.6 492.6 L1509.4 415.3 L1510.1 402.9 L1510.8 429.2 L1511.5 425.0 L1512.2 403.6 L1512.9 416.5 L1513.6 489.0 L1514.3 488.3 L1515.0 489.2 L1515.8 646.0 L1516.5 500.3 L1517.2 451.3 L1517.9 467.5 L1518.6 445.1 L1519.3 467.2 L1520.0 468.7 L1520.7 438.6 L1521.4 450.0 L1522.2 426.3 L1522.9 446.1 L1523.6 472.2 L1524.3 485.4 L1525.0 505.3 L1525.7 507.1 L1526.4 456.9 L1527.1 507.4 L1527.8 563.3 L1528.6 547.4 L1529.3 474.1 L1530.0 441.3 L1530.7 406.1 L1531.4 381.8 L1532.1 436.4 L1532.8 446.1 L1533.5 558.0 L1534.2 567.3 L1535.0 524.8 L1535.7 577.0 L1536.4 564.3 L1537.1 567.6 L1537.8 604.3 L1538.5 530.7 L1539.2 432.9 L1539.9 380.4 L1540.6 467.8 L1541.4 555.3 L1542.1 539.5 L1542.8 485.5 L1543.5 548.7 L1544.2 553.3 L1544.9 553.8 L1545.6 535.3 L1546.3 529.5 L1547.0 498.6 L1547.8 455.0 L1548.5 459.4 L1549.2 437.2 L1549.9 374.3 L1550.6 439.4 L1551.3 488.6 L1552.0 467.8 L1552.7 402.9 L1553.4 416.0 L1554.2 392.0 L1554.9 424.8 L1555.6 404.8 L1556.3 445.2 L1557.0 428.3 L1557.7 425.4 L1558.4 422.8 L1559.1 385.7 L1559.8 408.4 L1560.6 413.1 L1561.3 393.4 L1562.0 469.1 L1562.7 430.0 L1563.4 399.1 L1564.1 402.7 L1564.8 378.6 L1565.5 370.1 L1566.2 377.4 L1567.0 390.9 L1567.7 375.5 L1568.4 397.4 L1569.1 418.6 L1569.8 413.5 L1570.5 415.6 L1571.2 478.4 L1571.9 383.3 L1572.6 382.8 L1573.3 450.4 L1574.1 396.4 L1574.8 396.5 L1575.5 387.0 L1576.2 359.9 L1576.9 399.7 L1577.6 507.2 L1578.3 478.6 L1579.0 443.2 L1579.7 386.5 L1580.5 411.1 L1581.2 410.0 L1581.9 382.7 L1582.6 389.5 L1583.3 391.6 L1584.0 373.0 L1584.7 408.1 L1585.4 332.2 L1586.1 293.0 L1586.9 214.0 L1587.6 257.7 L1588.3 399.7 L1589.0 368.4 L1589.7 327.6 L1590.4 281.2 L1591.1 279.8 L1591.8 317.1 L1592.5 297.2 L1593.3 366.1 L1594.0 363.7 L1594.7 345.4 L1595.4 330.8 L1596.1 379.8 L1596.8 428.0 L1597.5 356.1 L1598.2 376.7 L1598.9 429.8 L1599.7 455.5 L1600.4 433.5 L1601.1 379.4 L1601.8 378.4 L1602.5 339.6 L1603.2 341.9 L1603.9 336.3 L1604.6 316.9 L1605.3 344.0 L1606.1 344.2 L1606.8 364.7 L1607.5 387.2 L1608.2 366.6 L1608.9 393.7 L1609.6 388.2 L1610.3 408.9 L1611.0 404.6 L1611.7 413.8 L1612.5 374.7 L1613.2 374.2 L1613.9 374.0 L1614.6 329.2 L1615.3 425.0 L1616.0 409.5 L1616.7 418.5 L1617.4 431.3" fill="none" stroke="#383838" stroke-width="0.75" stroke-linejoin="round"/>
<path d="M169.8 828.2h0M170.5 756.3h0M171.3 779.4h0M172.0 812.8h0M172.7 838.2h0M173.4 861.9h0M174.1 813.9h0M174.8 825.7h0M175.5 788.1h0M176.2 885.1h0M176.9 782.3h0M177.7 813.6h0M178.4 786.2h0M179.1 817.5h0M179.8 844.6h0M180.5 811.8h0M181.2 777.7h0M181.9 817.1h0M182.6 832.3h0M183.3 794.4h0M184.1 860.4h0M184.8 924.8h0M185.5 851.9h0M186.2 875.8h0M186.9 953.4h0M187.6 929.6h0M188.3 900.2h0M189.0 925.7h0M189.7 953.3h0M190.5 884.1h0M191.2 806.7h0M191.9 831.8h0M192.6 870.6h0M193.3 827.9h0M194.0 790.7h0M194.7 828.1h0M195.4 800.1h0M196.1 760.7h0M196.9 809.4h0M197.6 864.1h0M198.3 827.1h0M199.0 815.6h0M199.7 764.9h0M200.4 869.1h0M201.1 883.5h0M201.8 899.7h0M202.5 955.1h0M203.3 881.5h0M204.0 826.6h0M204.7 869.3h0M205.4 775.9h0M206.1 763.5h0M206.8 768.6h0M207.5 783.3h0M208.2 770.6h0M208.9 873.1h0M209.7 821.3h0M210.4 751.9h0M211.1 914.8h0M211.8 856.1h0M212.5 861.4h0M213.2 809.3h0M213.9 850.8h0M214.6 848.0h0M215.3 828.0h0M216.1 884.2h0M216.8 832.2h0M217.5 846.2h0M218.2 821.6h0M218.9 865.0h0M219.6 800.2h0M220.3 796.8h0M221.0 837.8h0M221.7 814.2h0M222.4 824.0h0M223.2 786.4h0M223.9 884.0h0M224.6 825.4h0M225.3 822.3h0M226.0 853.6h0M226.7 921.5h0M227.4 825.1h0M228.1 926.4h0M228.8 869.2h0M229.6 800.4h0M230.3 940.5h0M231.0 930.8h0M231.7 1034.3h0M232.4 923.0h0M233.1 816.5h0M233.8 1034.3h0M234.5 933.4h0M235.2 972.5h0M236.0 883.9h0M236.7 797.1h0M237.4 830.3h0M238.1 921.4h0M238.8 898.3h0M239.5 908.5h0M240.2 926.3h0M240.9 970.1h0M241.6 917.3h0M242.4 897.9h0M243.1 915.6h0M243.8 932.7h0M244.5 1013.2h0M245.2 929.9h0M245.9 871.9h0M246.6 909.4h0M247.3 1014.4h0M248.0 868.1h0M248.8 855.1h0M249.5 820.0h0M250.2 824.5h0M250.9 904.4h0M251.6 1014.2h0M252.3 861.7h0M253.0 788.0h0M253.7 915.8h0M254.4 938.2h0M255.2 876.3h0M255.9 955.2h0M256.6 1056.3h0M257.3 952.4h0M258.0 911.3h0M258.7 820.3h0M259.4 860.9h0M260.1 808.3h0M260.8 889.5h0M261.6 867.5h0M262.3 1056.4h0M263.0 1090.5h0M263.7 1149.0h0M264.4 956.4h0M265.1 875.0h0M265.8 838.7h0M266.5 755.0h0M267.2 757.2h0M268.0 739.9h0M268.7 827.4h0M269.4 919.3h0M270.1 966.0h0M270.8 966.9h0M271.5 1023.6h0M272.2 999.1h0M272.9 946.9h0M273.6 891.7h0M274.4 917.0h0M275.1 1067.1h0M275.8 976.3h0M276.5 907.1h0M277.2 799.4h0M277.9 792.2h0M278.6 894.4h0M279.3 949.5h0M280.0 739.5h0M280.8 1118.1h0M281.5 751.9h0M282.2 760.7h0M282.9 811.9h0M283.6 813.5h0M284.3 807.8h0M285.0 796.3h0M285.7 792.2h0M286.4 819.0h0M287.2 833.9h0M287.9 982.6h0M288.6 940.2h0M289.3 968.8h0M290.0 908.6h0M290.7 1109.3h0M291.4 848.3h0M292.1 792.6h0M292.8 808.4h0M293.5 815.2h0M294.3 836.8h0M295.0 891.9h0M295.7 894.4h0M296.4 922.8h0M297.1 863.2h0M297.8 865.3h0M298.5 819.4h0M299.2 954.0h0M299.9 836.6h0M300.7 915.2h0M301.4 950.2h0M302.1 923.0h0M302.8 939.4h0M303.5 877.7h0M304.2 918.0h0M304.9 977.0h0M305.6 887.4h0M306.3 817.8h0M307.1 838.2h0M307.8 945.0h0M308.5 901.9h0M309.2 712.2h0M309.9 788.9h0M310.6 948.1h0M311.3 865.4h0M312.0 820.2h0M312.7 956.2h0M313.5 883.2h0M314.2 792.9h0M314.9 791.0h0M315.6 806.3h0M316.3 759.5h0M317.0 798.8h0M317.7 804.0h0M318.4 842.8h0M319.1 802.2h0M319.9 905.6h0M320.6 820.3h0M321.3 891.7h0M322.0 954.9h0M322.7 877.6h0M323.4 1025.4h0M324.1 725.2h0M324.8 834.6h0M325.5 793.4h0M326.3 862.9h0M327.0 871.0h0M327.7 858.4h0M328.4 685.7h0M329.1 659.2h0M329.8 974.7h0M330.5 969.8h0M331.2 966.9h0M331.9 971.9h0M332.7 974.3h0M333.4 659.2h0M334.1 741.3h0M334.8 804.0h0M335.5 748.9h0M336.2 825.9h0M336.9 989.8h0M337.6 912.0h0M338.3 851.4h0M339.1 888.5h0M339.8 850.9h0M340.5 811.9h0M341.2 902.2h0M341.9 993.1h0M342.6 942.1h0M343.3 916.3h0M344.0 914.4h0M344.7 811.8h0M345.5 767.8h0M346.2 815.7h0M346.9 785.4h0M347.6 752.3h0M348.3 753.2h0M349.0 1029.8h0M349.7 824.6h0M350.4 786.9h0M351.1 765.7h0M351.9 739.1h0M352.6 831.1h0M353.3 800.2h0M354.0 735.9h0M354.7 771.2h0M355.4 858.4h0M356.1 743.9h0M356.8 896.0h0M357.5 840.2h0M358.3 851.4h0M359.0 944.6h0M359.7 811.1h0M360.4 810.0h0M361.1 921.9h0M361.8 845.9h0M362.5 885.0h0M363.2 963.6h0M363.9 986.7h0M364.6 903.1h0M365.4 834.2h0M366.1 834.7h0M366.8 843.8h0M367.5 816.9h0M368.2 853.6h0M368.9 769.9h0M369.6 803.7h0M370.3 809.7h0M371.0 794.6h0M371.8 903.6h0M372.5 932.1h0M373.2 783.4h0M373.9 796.2h0M374.6 847.3h0M375.3 827.3h0M376.0 876.9h0M376.7 846.5h0M377.4 899.3h0M378.2 857.7h0M378.9 924.0h0M379.6 817.1h0M380.3 873.0h0M381.0 946.1h0M381.7 931.9h0M382.4 919.7h0M383.1 876.2h0M383.8 946.7h0M384.6 872.1h0M385.3 673.6h0M386.0 820.2h0M386.7 812.9h0M387.4 854.9h0M388.1 910.7h0M388.8 929.9h0M389.5 901.6h0M390.2 891.1h0M391.0 874.2h0M391.7 748.2h0M392.4 848.6h0M393.1 837.0h0M393.8 672.1h0M394.5 796.2h0M395.2 883.3h0M395.9 865.4h0M396.6 855.5h0M397.4 787.1h0M398.1 800.1h0M398.8 865.1h0M399.5 828.9h0M400.2 1016.6h0M400.9 648.7h0M401.6 741.4h0M402.3 861.7h0M403.0 883.5h0M403.8 798.8h0M404.5 804.2h0M405.2 678.4h0M405.9 674.7h0M406.6 675.0h0M407.3 623.9h0M408.0 753.5h0M408.7 588.6h0M409.4 690.7h0M410.2 646.0h0M410.9 772.1h0M411.6 708.0h0M412.3 743.2h0M413.0 779.1h0M413.7 840.5h0M414.4 879.9h0M415.1 874.9h0M415.8 876.1h0M416.6 859.2h0M417.3 813.5h0M418.0 834.3h0M418.7 779.6h0M419.4 785.7h0M420.1 792.7h0M420.8 904.7h0M421.5 905.7h0M422.2 847.0h0M423.0 761.7h0M423.7 710.3h0M424.4 710.5h0M425.1 829.7h0M425.8 904.8h0M426.5 867.6h0M427.2 853.7h0M427.9 798.3h0M428.6 826.0h0M429.4 822.2h0M430.1 908.9h0M430.8 852.7h0M431.5 870.0h0M432.2 837.8h0M432.9 815.6h0M433.6 834.1h0M434.3 821.1h0M435.0 831.6h0M435.7 797.2h0M436.5 792.9h0M437.2 844.9h0M437.9 873.7h0M438.6 768.5h0M439.3 809.7h0M440.0 774.7h0M440.7 794.2h0M441.4 843.7h0M442.1 882.1h0M442.9 707.8h0M443.6 837.7h0M444.3 809.3h0M445.0 891.6h0M445.7 899.5h0M446.4 878.0h0M447.1 858.0h0M447.8 933.2h0M448.5 868.3h0M449.3 885.4h0M450.0 844.4h0M450.7 870.9h0M451.4 840.6h0M452.1 763.5h0M452.8 786.0h0M453.5 793.8h0M454.2 801.1h0M454.9 862.7h0M455.7 828.4h0M456.4 849.6h0M457.1 891.8h0M457.8 874.4h0M458.5 875.6h0M459.2 826.4h0M459.9 842.4h0M460.6 876.3h0M461.3 779.1h0M462.1 774.2h0M462.8 751.1h0M463.5 773.7h0M464.2 809.0h0M464.9 865.6h0M465.6 881.4h0M466.3 827.6h0M467.0 843.4h0M467.7 934.3h0M468.5 999.0h0M469.2 966.6h0M469.9 916.7h0M470.6 961.9h0M471.3 989.4h0M472.0 933.9h0M472.7 915.9h0M473.4 988.6h0M474.1 913.7h0M474.9 788.5h0M475.6 915.7h0M476.3 814.0h0M477.0 839.4h0M477.7 920.9h0M478.4 921.8h0M479.1 987.8h0M479.8 882.8h0M480.5 869.9h0M481.3 948.7h0M482.0 933.8h0M482.7 1001.0h0M483.4 976.8h0M484.1 898.7h0M484.8 993.4h0M485.5 1043.1h0M486.2 939.6h0M486.9 872.2h0M487.7 820.0h0M488.4 886.6h0M489.1 936.4h0M489.8 898.7h0M490.5 921.7h0M491.2 930.3h0M491.9 858.6h0M492.6 786.2h0M493.3 825.0h0M494.1 870.0h0M494.8 850.6h0M495.5 977.4h0M496.2 938.8h0M496.9 976.9h0M497.6 799.4h0M498.3 799.8h0M499.0 832.4h0M499.7 868.5h0M500.5 1022.9h0M501.2 914.8h0M501.9 802.0h0M502.6 881.4h0M503.3 729.8h0M504.0 812.3h0M504.7 935.1h0M505.4 818.0h0M506.1 776.2h0M506.8 806.0h0M507.6 839.4h0M508.3 803.6h0M509.0 930.0h0M509.7 894.5h0M510.4 814.5h0M511.1 917.6h0M511.8 830.6h0M512.5 873.8h0M513.2 1000.9h0M514.0 944.5h0M514.7 968.8h0M515.4 901.9h0M516.1 958.7h0M516.8 852.7h0M517.5 906.4h0M518.2 868.5h0M518.9 906.4h0M519.6 910.5h0M520.4 822.1h0M521.1 834.3h0M521.8 877.4h0M522.5 951.2h0M523.2 848.6h0M523.9 819.8h0M524.6 866.9h0M525.3 859.2h0M526.0 929.0h0M526.8 965.4h0M527.5 974.1h0M528.2 911.7h0M528.9 882.3h0M529.6 925.9h0M530.3 866.0h0M531.0 832.2h0M531.7 848.7h0M532.4 810.1h0M533.2 863.2h0M533.9 882.3h0M534.6 860.8h0M535.3 877.4h0M536.0 842.0h0M536.7 1126.9h0M537.4 839.4h0M538.1 907.2h0M538.8 910.9h0M539.6 977.0h0M540.3 908.7h0M541.0 837.6h0M541.7 810.6h0M542.4 808.8h0M543.1 930.6h0M543.8 955.8h0M544.5 952.8h0M545.2 975.2h0M546.0 882.2h0M546.7 879.4h0M547.4 888.2h0M548.1 865.6h0M548.8 929.2h0M549.5 961.4h0M550.2 944.2h0M550.9 910.3h0M551.6 881.6h0M552.4 852.0h0M553.1 806.9h0M553.8 908.9h0M554.5 935.1h0M555.2 902.4h0M555.9 971.1h0M556.6 960.7h0M557.3 863.1h0M558.0 803.4h0M558.8 805.1h0M559.5 815.3h0M560.2 854.4h0M560.9 795.5h0M561.6 852.5h0M562.3 838.7h0M563.0 768.0h0M563.7 835.8h0M564.4 888.1h0M565.2 877.5h0M565.9 831.5h0M566.6 813.1h0M567.3 823.8h0M568.0 806.2h0M568.7 934.3h0M569.4 747.5h0M570.1 973.0h0M570.8 942.3h0M571.6 994.3h0M572.3 959.0h0M573.0 1004.3h0M573.7 947.1h0M574.4 975.6h0M575.1 901.2h0M575.8 757.1h0M576.5 809.1h0M577.2 751.7h0M577.9 768.0h0M578.7 881.7h0M579.4 883.7h0M580.1 934.2h0M580.8 842.6h0M581.5 1047.5h0M582.2 799.9h0M582.9 783.3h0M583.6 946.6h0M584.3 850.1h0M585.1 747.7h0M585.8 844.8h0M586.5 782.8h0M587.2 928.0h0M587.9 875.7h0M588.6 968.5h0M589.3 883.6h0M590.0 979.4h0M590.7 1012.0h0M591.5 952.3h0M592.2 765.1h0M592.9 839.4h0M593.6 793.6h0M594.3 812.1h0M595.0 725.4h0M595.7 812.2h0M596.4 732.3h0M597.1 857.6h0M597.9 821.2h0M598.6 814.2h0M599.3 911.9h0M600.0 792.2h0M600.7 744.9h0M601.4 826.5h0M602.1 741.3h0M602.8 734.2h0M603.5 826.8h0M604.3 757.6h0M605.0 789.6h0M605.7 802.7h0M606.4 743.8h0M607.1 777.7h0M607.8 770.9h0M608.5 871.1h0M609.2 952.2h0M609.9 794.2h0M610.7 911.0h0M611.4 886.2h0M612.1 937.1h0M612.8 919.8h0M613.5 967.7h0M614.2 845.3h0M614.9 914.7h0M615.6 908.0h0M616.3 908.6h0M617.1 839.3h0M617.8 934.6h0M618.5 918.3h0M619.2 919.1h0M619.9 827.0h0M620.6 867.9h0M621.3 906.5h0M622.0 894.1h0M622.7 918.3h0M623.5 891.5h0M624.2 905.5h0M624.9 940.9h0M625.6 931.1h0M626.3 907.8h0M627.0 860.6h0M627.7 880.6h0M628.4 885.5h0M629.1 834.7h0M629.9 973.7h0M630.6 1043.1h0M631.3 1044.9h0M632.0 1000.6h0M632.7 858.9h0M633.4 875.1h0M634.1 847.4h0M634.8 897.6h0M635.5 1028.1h0M636.3 999.5h0M637.0 979.9h0M637.7 954.0h0M638.4 1007.3h0M639.1 927.1h0M639.8 1003.3h0M640.5 924.2h0M641.2 865.6h0M641.9 933.6h0M642.7 987.5h0M643.4 1043.1h0M644.1 984.3h0M644.8 926.3h0M645.5 987.5h0M646.2 930.7h0M646.9 931.4h0M647.6 955.7h0M648.3 990.5h0M649.0 958.6h0M649.8 1037.6h0M650.5 1008.5h0M651.2 997.7h0M651.9 942.8h0M652.6 999.8h0M653.3 897.1h0M654.0 931.3h0M654.7 988.1h0M655.4 905.6h0M656.2 846.5h0M656.9 897.3h0M657.6 957.9h0M658.3 950.9h0M659.0 1005.1h0M659.7 977.9h0M660.4 892.4h0M661.1 897.1h0M661.8 910.9h0M662.6 909.7h0M663.3 927.4h0M664.0 896.6h0M664.7 877.5h0M665.4 923.3h0M666.1 927.7h0M666.8 825.5h0M667.5 857.9h0M668.2 903.7h0M669.0 828.2h0M669.7 877.8h0M670.4 956.2h0M671.1 920.0h0M671.8 971.1h0M672.5 981.7h0M673.2 950.0h0M673.9 952.6h0M674.6 983.2h0M675.4 990.8h0M676.1 997.0h0M676.8 868.9h0M677.5 1034.3h0M678.2 979.4h0M678.9 868.3h0M679.6 924.9h0M680.3 862.2h0M681.0 834.3h0M681.8 886.5h0M682.5 975.4h0M683.2 938.6h0M683.9 907.1h0M684.6 921.6h0M685.3 898.7h0M686.0 858.8h0M686.7 827.0h0M687.4 1034.3h0M688.2 862.0h0M688.9 885.7h0M689.6 934.1h0M690.3 950.1h0M691.0 854.9h0M691.7 842.5h0M692.4 967.3h0M693.1 949.6h0M693.8 949.9h0M694.6 1051.9h0M695.3 968.9h0M696.0 1023.9h0M696.7 944.1h0M697.4 984.7h0M698.1 980.6h0M698.8 989.4h0M699.5 1000.4h0M700.2 935.4h0M701.0 915.3h0M701.7 954.8h0M702.4 990.5h0M703.1 987.7h0M703.8 915.8h0M704.5 915.0h0M705.2 908.8h0M705.9 932.1h0M706.6 941.4h0M707.4 922.8h0M708.1 1013.8h0M708.8 892.8h0M709.5 942.7h0M710.2 963.7h0M710.9 870.1h0M711.6 874.6h0M712.3 885.5h0M713.0 924.4h0M713.8 999.2h0M714.5 947.0h0M715.2 859.6h0M715.9 923.7h0M716.6 833.0h0M717.3 919.8h0M718.0 947.4h0M718.7 828.2h0M719.4 886.3h0M720.1 841.7h0M720.9 899.4h0M721.6 949.9h0M722.3 970.0h0M723.0 962.7h0M723.7 1003.4h0M724.4 984.3h0M725.1 953.6h0M725.8 957.7h0M726.5 981.1h0M727.3 809.7h0M728.0 886.2h0M728.7 958.7h0M729.4 840.5h0M730.1 833.2h0M730.8 891.4h0M731.5 976.6h0M732.2 997.2h0M732.9 880.9h0M733.7 902.9h0M734.4 946.7h0M735.1 927.4h0M735.8 846.8h0M736.5 951.5h0M737.2 955.9h0M737.9 952.1h0M738.6 820.2h0M739.3 744.7h0M740.1 793.8h0M740.8 858.9h0M741.5 1078.4h0M742.2 999.1h0M742.9 959.8h0M743.6 1019.4h0M744.3 1003.5h0M745.0 998.4h0M745.7 1018.0h0M746.5 959.5h0M747.2 918.5h0M747.9 915.4h0M748.6 973.2h0M749.3 925.6h0M750.0 936.7h0M750.7 876.6h0M751.4 946.8h0M752.1 1025.8h0M752.9 1044.0h0M753.6 885.0h0M754.3 877.2h0M755.0 906.1h0M755.7 865.9h0M756.4 861.0h0M757.1 859.4h0M757.8 909.3h0M758.5 906.5h0M759.3 897.3h0M760.0 936.5h0M760.7 984.9h0M761.4 944.3h0M762.1 840.5h0M762.8 849.1h0M763.5 841.9h0M764.2 836.2h0M764.9 770.9h0M765.7 773.6h0M766.4 763.1h0M767.1 760.4h0M767.8 778.0h0M768.5 808.7h0M769.2 782.8h0M769.9 769.9h0M770.6 777.5h0M771.3 801.6h0M772.1 830.5h0M772.8 918.6h0M773.5 842.6h0M774.2 872.6h0M774.9 969.8h0M775.6 941.1h0M776.3 943.5h0M777.0 962.0h0M777.7 955.1h0M778.5 972.5h0M779.2 875.9h0M779.9 953.9h0M780.6 907.5h0M781.3 864.2h0M782.0 790.7h0M782.7 775.5h0M783.4 802.3h0M784.1 825.9h0M784.9 846.8h0M785.6 796.8h0M786.3 859.8h0M787.0 836.0h0M787.7 853.3h0M788.4 846.1h0M789.1 867.2h0M789.8 757.5h0M790.5 833.8h0M791.2 832.8h0M792.0 830.8h0M792.7 812.6h0M793.4 809.5h0M794.1 808.7h0M794.8 780.4h0M795.5 886.2h0M796.2 874.1h0M796.9 927.5h0M797.6 887.2h0M798.4 931.8h0M799.1 947.1h0M799.8 912.3h0M800.5 821.1h0M801.2 701.6h0M801.9 810.5h0M802.6 760.7h0M803.3 841.4h0M804.0 942.2h0M804.8 924.1h0M805.5 906.2h0M806.2 826.4h0M806.9 738.2h0M807.6 841.7h0M808.3 733.2h0M809.0 726.4h0M809.7 710.0h0M810.4 758.6h0M811.2 727.2h0M811.9 747.3h0M812.6 805.8h0M813.3 814.5h0M814.0 882.5h0M814.7 846.0h0M815.4 848.2h0M816.1 831.2h0M816.8 819.8h0M817.6 869.8h0M818.3 804.5h0M819.0 685.7h0M819.7 814.1h0M820.4 887.9h0M821.1 852.4h0M821.8 879.6h0M822.5 860.5h0M823.2 877.6h0M824.0 951.9h0M824.7 952.4h0M825.4 903.0h0M826.1 873.9h0M826.8 905.6h0M827.5 953.4h0M828.2 952.4h0M828.9 914.4h0M829.6 909.5h0M830.4 914.3h0M831.1 844.3h0M831.8 884.9h0M832.5 776.8h0M833.2 839.3h0M833.9 832.1h0M834.6 860.2h0M835.3 899.9h0M836.0 831.9h0M836.8 826.4h0M837.5 849.1h0M838.2 775.4h0M838.9 760.2h0M839.6 746.4h0M840.3 721.5h0M841.0 728.6h0M841.7 826.1h0M842.4 844.3h0M843.2 789.2h0M843.9 839.8h0M844.6 832.2h0M845.3 1012.2h0M846.0 746.8h0M846.7 714.7h0M847.4 714.3h0M848.1 766.0h0M848.8 744.5h0M849.6 749.9h0M850.3 786.4h0M851.0 735.1h0M851.7 745.5h0M852.4 812.5h0M853.1 755.0h0M853.8 793.9h0M854.5 709.9h0M855.2 868.8h0M856.0 851.8h0M856.7 886.9h0M857.4 859.4h0M858.1 960.7h0M858.8 807.0h0M859.5 681.3h0M860.2 809.2h0M860.9 759.3h0M861.6 789.5h0M862.3 776.4h0M863.1 861.4h0M863.8 836.1h0M864.5 851.0h0M865.2 814.5h0M865.9 807.9h0M866.6 882.3h0M867.3 951.4h0M868.0 952.0h0M868.7 864.2h0M869.5 690.1h0M870.2 728.4h0M870.9 911.8h0M871.6 962.3h0M872.3 962.3h0M873.0 929.2h0M873.7 917.7h0M874.4 861.9h0M875.1 854.2h0M875.9 901.1h0M876.6 914.4h0M877.3 870.2h0M878.0 846.5h0M878.7 839.2h0M879.4 713.8h0M880.1 766.6h0M880.8 779.2h0M881.5 844.9h0M882.3 852.2h0M883.0 810.5h0M883.7 782.1h0M884.4 802.3h0M885.1 785.6h0M885.8 792.9h0M886.5 899.9h0M887.2 961.3h0M887.9 830.1h0M888.7 778.2h0M889.4 793.3h0M890.1 892.8h0M890.8 929.7h0M891.5 810.4h0M892.2 960.4h0M892.9 920.0h0M893.6 829.8h0M894.3 813.0h0M895.1 768.8h0M895.8 690.1h0M896.5 745.6h0M897.2 773.2h0M897.9 859.8h0M898.6 823.0h0M899.3 735.6h0M900.0 763.4h0M900.7 718.8h0M901.5 779.1h0M902.2 853.1h0M902.9 753.6h0M903.6 753.7h0M904.3 723.1h0M905.0 722.9h0M905.7 814.7h0M906.4 872.0h0M907.1 854.4h0M907.9 798.3h0M908.6 767.1h0M909.3 854.9h0M910.0 819.0h0M910.7 806.1h0M911.4 793.7h0M912.1 791.8h0M912.8 800.0h0M913.5 761.3h0M914.3 762.2h0M915.0 757.1h0M915.7 803.2h0M916.4 772.7h0M917.1 781.2h0M917.8 893.5h0M918.5 823.3h0M919.2 819.3h0M919.9 752.7h0M920.7 768.8h0M921.4 775.0h0M922.1 762.1h0M922.8 765.6h0M923.5 790.3h0M924.2 876.4h0M924.9 738.3h0M925.6 831.3h0M926.3 626.6h0M927.1 767.3h0M927.8 745.6h0M928.5 722.0h0M929.2 696.3h0M929.9 654.4h0M930.6 677.7h0M931.3 613.1h0M932.0 684.6h0M932.7 698.5h0M933.4 737.5h0M934.2 770.9h0M934.9 749.0h0M935.6 675.4h0M936.3 738.7h0M937.0 777.9h0M937.7 579.8h0M938.4 726.3h0M939.1 623.5h0M939.8 616.5h0M940.6 651.3h0M941.3 700.1h0M942.0 703.5h0M942.7 724.1h0M943.4 794.2h0M944.1 765.4h0M944.8 764.8h0M945.5 763.0h0M946.2 829.2h0M947.0 674.1h0M947.7 660.2h0M948.4 639.7h0M949.1 698.6h0M949.8 754.4h0M950.5 754.5h0M951.2 729.6h0M951.9 740.4h0M952.6 739.5h0M953.4 686.0h0M954.1 681.9h0M954.8 736.5h0M955.5 754.9h0M956.2 760.5h0M956.9 732.3h0M957.6 773.6h0M958.3 755.5h0M959.0 705.7h0M959.8 703.0h0M960.5 741.7h0M961.2 753.2h0M961.9 728.6h0M962.6 697.9h0M963.3 663.5h0M964.0 683.7h0M964.7 787.1h0M965.4 670.1h0M966.2 669.8h0M966.9 665.2h0M967.6 667.2h0M968.3 601.9h0M969.0 738.4h0M969.7 718.0h0M970.4 669.3h0M971.1 683.8h0M971.8 597.5h0M972.6 812.1h0M973.3 623.9h0M974.0 686.9h0M974.7 666.3h0M975.4 686.2h0M976.1 645.7h0M976.8 643.1h0M977.5 664.6h0M978.2 672.5h0M979.0 668.0h0M979.7 662.1h0M980.4 717.3h0M981.1 695.4h0M981.8 690.5h0M982.5 734.9h0M983.2 745.9h0M983.9 761.3h0M984.6 745.1h0M985.4 771.0h0M986.1 735.0h0M986.8 619.5h0M987.5 832.6h0M988.2 901.7h0M988.9 879.5h0M989.6 808.8h0M990.3 792.0h0M991.0 789.4h0M991.8 777.8h0M992.5 682.9h0M993.2 795.5h0M993.9 724.3h0M994.6 832.5h0M995.3 840.7h0M996.0 776.1h0M996.7 849.9h0M997.4 812.5h0M998.2 756.9h0M998.9 838.3h0M999.6 823.3h0M1000.3 832.1h0M1001.0 931.8h0M1001.7 891.1h0M1002.4 901.6h0M1003.1 781.9h0M1003.8 836.4h0M1004.5 720.0h0M1005.3 776.9h0M1006.0 669.3h0M1006.7 682.2h0M1007.4 696.0h0M1008.1 685.0h0M1008.8 672.8h0M1009.5 676.0h0M1010.2 676.4h0M1010.9 687.8h0M1011.7 798.8h0M1012.4 922.9h0M1013.1 920.0h0M1013.8 836.3h0M1014.5 804.2h0M1015.2 798.4h0M1015.9 820.8h0M1016.6 851.5h0M1017.3 851.9h0M1018.1 815.7h0M1018.8 909.8h0M1019.5 835.3h0M1020.2 905.5h0M1020.9 880.8h0M1021.6 890.3h0M1022.3 882.1h0M1023.0 912.8h0M1023.7 938.5h0M1024.5 905.9h0M1025.2 929.9h0M1025.9 756.9h0M1026.6 796.9h0M1027.3 835.3h0M1028.0 854.4h0M1028.7 894.2h0M1029.4 942.5h0M1030.1 940.6h0M1030.9 875.9h0M1031.6 946.0h0M1032.3 884.3h0M1033.0 840.4h0M1033.7 878.8h0M1034.4 831.3h0M1035.1 793.3h0M1035.8 770.8h0M1036.5 816.1h0M1037.3 761.4h0M1038.0 676.9h0M1038.7 775.5h0M1039.4 743.1h0M1040.1 775.0h0M1040.8 847.4h0M1041.5 794.0h0M1042.2 850.2h0M1042.9 874.7h0M1043.7 901.6h0M1044.4 816.0h0M1045.1 812.8h0M1045.8 920.5h0M1046.5 833.1h0M1047.2 704.9h0M1047.9 685.9h0M1048.6 713.4h0M1049.3 730.7h0M1050.1 718.8h0M1050.8 646.0h0M1051.5 716.8h0M1052.2 793.5h0M1052.9 746.0h0M1053.6 722.0h0M1054.3 808.6h0M1055.0 814.7h0M1055.7 785.0h0M1056.5 779.9h0M1057.2 748.7h0M1057.9 714.0h0M1058.6 704.7h0M1059.3 733.3h0M1060.0 817.3h0M1060.7 769.4h0M1061.4 776.0h0M1062.1 695.7h0M1062.9 673.4h0M1063.6 709.8h0M1064.3 656.1h0M1065.0 649.3h0M1065.7 656.3h0M1066.4 910.7h0M1067.1 740.3h0M1067.8 722.8h0M1068.5 811.8h0M1069.3 791.5h0M1070.0 794.5h0M1070.7 814.9h0M1071.4 884.6h0M1072.1 876.6h0M1072.8 852.4h0M1073.5 832.8h0M1074.2 837.5h0M1074.9 797.7h0M1075.6 757.9h0M1076.4 723.4h0M1077.1 787.5h0M1077.8 786.7h0M1078.5 805.0h0M1079.2 845.7h0M1079.9 905.1h0M1080.6 871.3h0M1081.3 889.3h0M1082.0 742.7h0M1082.8 763.2h0M1083.5 782.9h0M1084.2 804.4h0M1084.9 702.6h0M1085.6 777.7h0M1086.3 787.5h0M1087.0 823.4h0M1087.7 814.8h0M1088.4 804.2h0M1089.2 742.3h0M1089.9 821.2h0M1090.6 806.4h0M1091.3 719.7h0M1092.0 761.1h0M1092.7 772.5h0M1093.4 811.6h0M1094.1 857.3h0M1094.8 868.8h0M1095.6 782.0h0M1096.3 796.3h0M1097.0 864.4h0M1097.7 610.7h0M1098.4 795.1h0M1099.1 741.1h0M1099.8 709.1h0M1100.5 736.0h0M1101.2 726.2h0M1102.0 807.2h0M1102.7 744.6h0M1103.4 739.5h0M1104.1 701.0h0M1104.8 676.5h0M1105.5 711.2h0M1106.2 728.4h0M1106.9 766.0h0M1107.6 833.4h0M1108.4 897.5h0M1109.1 780.0h0M1109.8 805.0h0M1110.5 758.9h0M1111.2 749.6h0M1111.9 731.6h0M1112.6 760.8h0M1113.3 814.4h0M1114.0 765.1h0M1114.8 737.6h0M1115.5 744.0h0M1116.2 759.5h0M1116.9 765.6h0M1117.6 765.2h0M1118.3 778.6h0M1119.0 841.6h0M1119.7 785.2h0M1120.4 829.3h0M1121.2 803.3h0M1121.9 809.8h0M1122.6 826.2h0M1123.3 835.9h0M1124.0 767.4h0M1124.7 741.7h0M1125.4 720.2h0M1126.1 687.1h0M1126.8 743.2h0M1127.6 871.0h0M1128.3 795.9h0M1129.0 757.5h0M1129.7 717.1h0M1130.4 756.2h0M1131.1 765.8h0M1131.8 757.8h0M1132.5 835.9h0M1133.2 759.8h0M1134.0 849.3h0M1134.7 763.6h0M1135.4 808.0h0M1136.1 728.1h0M1136.8 745.7h0M1137.5 828.0h0M1138.2 723.1h0M1138.9 659.2h0M1139.6 760.4h0M1140.4 698.3h0M1141.1 750.9h0M1141.8 816.9h0M1142.5 765.2h0M1143.2 771.9h0M1143.9 832.7h0M1144.6 868.2h0M1145.3 862.6h0M1146.0 799.5h0M1146.7 811.4h0M1147.5 778.0h0M1148.2 711.3h0M1148.9 682.7h0M1149.6 664.4h0M1150.3 664.2h0M1151.0 764.6h0M1151.7 720.3h0M1152.4 729.4h0M1153.1 755.2h0M1153.9 814.8h0M1154.6 877.3h0M1155.3 862.0h0M1156.0 856.6h0M1156.7 877.9h0M1157.4 842.5h0M1158.1 868.5h0M1158.8 827.6h0M1159.5 827.9h0M1160.3 821.3h0M1161.0 752.1h0M1161.7 776.9h0M1162.4 753.3h0M1163.1 809.6h0M1163.8 787.1h0M1164.5 780.7h0M1165.2 773.8h0M1165.9 796.9h0M1166.7 837.2h0M1167.4 832.6h0M1168.1 836.7h0M1168.8 773.5h0M1169.5 735.7h0M1170.2 801.9h0M1170.9 767.0h0M1171.6 791.4h0M1172.3 766.9h0M1173.1 791.1h0M1173.8 850.8h0M1174.5 782.9h0M1175.2 760.9h0M1175.9 820.3h0M1176.6 832.1h0M1177.3 875.8h0M1178.0 876.0h0M1178.7 873.8h0M1179.5 815.8h0M1180.2 739.0h0M1180.9 765.8h0M1181.6 708.6h0M1182.3 678.6h0M1183.0 727.7h0M1183.7 815.0h0M1184.4 765.4h0M1185.1 741.8h0M1185.9 649.6h0M1186.6 643.0h0M1187.3 643.0h0M1188.0 643.0h0M1188.7 705.0h0M1189.4 718.2h0M1190.1 747.6h0M1190.8 680.2h0M1191.5 684.9h0M1192.3 650.4h0M1193.0 763.9h0M1193.7 806.4h0M1194.4 762.6h0M1195.1 786.9h0M1195.8 725.5h0M1196.5 745.0h0M1197.2 745.4h0M1197.9 795.4h0M1198.7 727.9h0M1199.4 724.6h0M1200.1 740.3h0M1200.8 719.8h0M1201.5 759.4h0M1202.2 682.0h0M1202.9 700.3h0M1203.6 706.9h0M1204.3 712.4h0M1205.1 770.7h0M1205.8 822.6h0M1206.5 798.4h0M1207.2 775.9h0M1207.9 717.6h0M1208.6 715.9h0M1209.3 781.5h0M1210.0 757.3h0M1210.7 727.8h0M1211.5 699.8h0M1212.2 709.5h0M1212.9 783.5h0M1213.6 732.3h0M1214.3 778.6h0M1215.0 754.6h0M1215.7 830.7h0M1216.4 783.0h0M1217.1 816.8h0M1217.8 760.0h0M1218.6 691.3h0M1219.3 623.9h0M1220.0 754.9h0M1220.7 805.0h0M1221.4 836.9h0M1222.1 793.3h0M1222.8 776.8h0M1223.5 773.5h0M1224.2 764.9h0M1225.0 747.5h0M1225.7 732.5h0M1226.4 677.5h0M1227.1 714.4h0M1227.8 729.2h0M1228.5 897.5h0M1229.2 874.5h0M1229.9 880.0h0M1230.6 840.1h0M1231.4 862.5h0M1232.1 797.6h0M1232.8 815.5h0M1233.5 830.2h0M1234.2 841.6h0M1234.9 821.8h0M1235.6 836.7h0M1236.3 805.2h0M1237.0 784.3h0M1237.8 774.1h0M1238.5 745.8h0M1239.2 756.9h0M1239.9 759.4h0M1240.6 901.9h0M1241.3 720.6h0M1242.0 704.4h0M1242.7 724.4h0M1243.4 759.7h0M1244.2 784.0h0M1244.9 816.0h0M1245.6 893.1h0M1246.3 818.7h0M1247.0 821.9h0M1247.7 753.5h0M1248.4 762.7h0M1249.1 714.2h0M1249.8 717.0h0M1250.6 693.0h0M1251.3 738.3h0M1252.0 737.4h0M1252.7 630.2h0M1253.4 631.3h0M1254.1 624.0h0M1254.8 651.2h0M1255.5 643.3h0M1256.2 723.1h0M1257.0 765.6h0M1257.7 740.6h0M1258.4 705.9h0M1259.1 733.2h0M1259.8 742.5h0M1260.5 755.9h0M1261.2 757.5h0M1261.9 801.2h0M1262.6 794.0h0M1263.4 812.0h0M1264.1 808.8h0M1264.8 789.9h0M1265.5 809.5h0M1266.2 823.9h0M1266.9 807.6h0M1267.6 800.8h0M1268.3 780.0h0M1269.0 804.2h0M1269.8 809.6h0M1270.5 759.8h0M1271.2 730.4h0M1271.9 744.2h0M1272.6 718.4h0M1273.3 707.1h0M1274.0 699.8h0M1274.7 617.5h0M1275.4 670.4h0M1276.2 661.4h0M1276.9 654.5h0M1277.6 557.8h0M1278.3 731.5h0M1279.0 691.4h0M1279.7 680.6h0M1280.4 681.5h0M1281.1 682.7h0M1281.8 683.3h0M1282.6 721.8h0M1283.3 732.3h0M1284.0 770.2h0M1284.7 745.7h0M1285.4 789.8h0M1286.1 772.5h0M1286.8 714.8h0M1287.5 548.9h0M1288.2 722.8h0M1288.9 686.6h0M1289.7 693.4h0M1290.4 703.7h0M1291.1 710.1h0M1291.8 634.1h0M1292.5 615.4h0M1293.2 609.5h0M1293.9 675.4h0M1294.6 646.3h0M1295.3 705.9h0M1296.1 674.0h0M1296.8 773.9h0M1297.5 621.8h0M1298.2 704.4h0M1298.9 643.3h0M1299.6 617.6h0M1300.3 705.0h0M1301.0 704.7h0M1301.7 636.5h0M1302.5 600.9h0M1303.2 688.1h0M1303.9 704.8h0M1304.6 544.5h0M1305.3 764.2h0M1306.0 764.4h0M1306.7 667.1h0M1307.4 665.1h0M1308.1 677.9h0M1308.9 691.5h0M1309.6 662.8h0M1310.3 641.7h0M1311.0 688.5h0M1311.7 631.3h0M1312.4 687.4h0M1313.1 697.3h0M1313.8 677.2h0M1314.5 616.1h0M1315.3 649.4h0M1316.0 650.0h0M1316.7 613.3h0M1317.4 612.4h0M1318.1 593.7h0M1318.8 583.9h0M1319.5 605.4h0M1320.2 809.2h0M1320.9 599.3h0M1321.7 627.2h0M1322.4 589.6h0M1323.1 689.3h0M1323.8 723.0h0M1324.5 664.4h0M1325.2 657.7h0M1325.9 689.8h0M1326.6 677.2h0M1327.3 642.8h0M1328.1 675.3h0M1328.8 651.7h0M1329.5 660.5h0M1330.2 675.1h0M1330.9 680.0h0M1331.6 640.7h0M1332.3 692.2h0M1333.0 702.0h0M1333.7 638.3h0M1334.5 717.3h0M1335.2 763.9h0M1335.9 718.2h0M1336.6 705.6h0M1337.3 701.6h0M1338.0 687.5h0M1338.7 718.6h0M1339.4 594.7h0M1340.1 651.1h0M1340.9 671.1h0M1341.6 722.9h0M1342.3 722.0h0M1343.0 646.3h0M1343.7 648.8h0M1344.4 627.9h0M1345.1 654.1h0M1345.8 535.7h0M1346.5 595.5h0M1347.3 659.7h0M1348.0 626.5h0M1348.7 647.1h0M1349.4 622.9h0M1350.1 623.5h0M1350.8 618.6h0M1351.5 619.9h0M1352.2 662.6h0M1352.9 718.0h0M1353.7 657.5h0M1354.4 658.6h0M1355.1 642.0h0M1355.8 660.6h0M1356.5 738.8h0M1357.2 679.0h0M1357.9 673.7h0M1358.6 697.7h0M1359.3 698.6h0M1360.0 700.2h0M1360.8 739.8h0M1361.5 729.5h0M1362.2 715.7h0M1362.9 699.5h0M1363.6 711.6h0M1364.3 718.3h0M1365.0 456.3h0M1365.7 670.6h0M1366.4 670.0h0M1367.2 587.4h0M1367.9 594.0h0M1368.6 600.8h0M1369.3 641.9h0M1370.0 597.8h0M1370.7 656.4h0M1371.4 726.2h0M1372.1 749.1h0M1372.8 694.6h0M1373.6 734.0h0M1374.3 653.1h0M1375.0 653.2h0M1375.7 721.3h0M1376.4 713.0h0M1377.1 614.9h0M1377.8 663.9h0M1378.5 720.9h0M1379.2 679.0h0M1380.0 611.3h0M1380.7 574.8h0M1381.4 610.4h0M1382.1 612.6h0M1382.8 674.5h0M1383.5 563.9h0M1384.2 485.6h0M1384.9 533.9h0M1385.6 503.6h0M1386.4 756.3h0M1387.1 556.2h0M1387.8 623.4h0M1388.5 663.8h0M1389.2 640.0h0M1389.9 680.2h0M1390.6 631.2h0M1391.3 657.4h0M1392.0 649.2h0M1392.8 649.7h0M1393.5 660.0h0M1394.2 648.0h0M1394.9 601.0h0M1395.6 496.5h0M1396.3 572.6h0M1397.0 576.9h0M1397.7 598.0h0M1398.4 640.6h0M1399.2 626.4h0M1399.9 658.3h0M1400.6 652.1h0M1401.3 600.5h0M1402.0 676.9h0M1402.7 653.3h0M1403.4 629.2h0M1404.1 658.2h0M1404.8 630.0h0M1405.6 615.0h0M1406.3 626.1h0M1407.0 585.0h0M1407.7 632.4h0M1408.4 629.0h0M1409.1 614.7h0M1409.8 643.5h0M1410.5 638.4h0M1411.2 639.7h0M1412.0 607.1h0M1412.7 650.3h0M1413.4 644.1h0M1414.1 647.2h0M1414.8 585.5h0M1415.5 623.9h0M1416.2 582.0h0M1416.9 643.2h0M1417.6 683.8h0M1418.4 616.4h0M1419.1 596.3h0M1419.8 619.1h0M1420.5 643.0h0M1421.2 664.0h0M1421.9 633.4h0M1422.6 612.5h0M1423.3 638.0h0M1424.0 587.9h0M1424.8 615.0h0M1425.5 635.3h0M1426.2 638.3h0M1426.9 565.4h0M1427.6 507.7h0M1428.3 564.3h0M1429.0 552.7h0M1429.7 513.0h0M1430.4 431.1h0M1431.1 572.6h0M1431.9 563.9h0M1432.6 533.5h0M1433.3 460.7h0M1434.0 578.8h0M1434.7 564.9h0M1435.4 528.4h0M1436.1 504.3h0M1436.8 543.0h0M1437.5 577.0h0M1438.3 542.8h0M1439.0 539.4h0M1439.7 429.8h0M1440.4 629.1h0M1441.1 533.5h0M1441.8 488.5h0M1442.5 466.2h0M1443.2 521.0h0M1443.9 547.1h0M1444.7 475.3h0M1445.4 464.1h0M1446.1 526.7h0M1446.8 533.5h0M1447.5 534.4h0M1448.2 549.9h0M1448.9 592.9h0M1449.6 531.9h0M1450.3 514.8h0M1451.1 534.9h0M1451.8 606.1h0M1452.5 618.2h0M1453.2 603.7h0M1453.9 558.3h0M1454.6 592.4h0M1455.3 527.3h0M1456.0 530.6h0M1456.7 566.7h0M1457.5 670.4h0M1458.2 671.9h0M1458.9 670.6h0M1459.6 669.1h0M1460.3 633.0h0M1461.0 563.8h0M1461.7 562.3h0M1462.4 600.9h0M1463.1 506.9h0M1463.9 507.5h0M1464.6 527.5h0M1465.3 530.6h0M1466.0 589.8h0M1466.7 556.8h0M1467.4 540.7h0M1468.1 486.8h0M1468.8 409.1h0M1469.5 452.4h0M1470.3 431.1h0M1471.0 466.9h0M1471.7 498.5h0M1472.4 508.4h0M1473.1 555.3h0M1473.8 553.2h0M1474.5 566.1h0M1475.2 508.2h0M1475.9 526.3h0M1476.7 587.5h0M1477.4 569.3h0M1478.1 510.0h0M1478.8 571.1h0M1479.5 581.2h0M1480.2 563.3h0M1480.9 592.6h0M1481.6 589.1h0M1482.3 566.7h0M1483.1 593.4h0M1483.8 561.7h0M1484.5 534.1h0M1485.2 566.0h0M1485.9 548.8h0M1486.6 502.9h0M1487.3 507.7h0M1488.0 492.1h0M1488.7 474.0h0M1489.5 487.6h0M1490.2 460.0h0M1490.9 457.9h0M1491.6 498.8h0M1492.3 482.7h0M1493.0 460.2h0M1493.7 445.2h0M1494.4 478.5h0M1495.1 469.5h0M1495.9 434.9h0M1496.6 443.9h0M1497.3 421.5h0M1498.0 401.2h0M1498.7 426.9h0M1499.4 424.8h0M1500.1 452.3h0M1500.8 431.5h0M1501.5 451.2h0M1502.2 479.9h0M1503.0 485.5h0M1503.7 491.1h0M1504.4 481.5h0M1505.1 471.9h0M1505.8 513.9h0M1506.5 529.8h0M1507.2 511.3h0M1507.9 493.8h0M1508.6 492.6h0M1509.4 415.3h0M1510.1 402.9h0M1510.8 429.2h0M1511.5 425.0h0M1512.2 403.6h0M1512.9 416.5h0M1513.6 489.0h0M1514.3 488.3h0M1515.0 489.2h0M1515.8 646.0h0M1516.5 500.3h0M1517.2 451.3h0M1517.9 467.5h0M1518.6 445.1h0M1519.3 467.2h0M1520.0 468.7h0M1520.7 438.6h0M1521.4 450.0h0M1522.2 426.3h0M1522.9 446.1h0M1523.6 472.2h0M1524.3 485.4h0M1525.0 505.3h0M1525.7 507.1h0M1526.4 456.9h0M1527.1 507.4h0M1527.8 563.3h0M1528.6 547.4h0M1529.3 474.1h0M1530.0 441.3h0M1530.7 406.1h0M1531.4 381.8h0M1532.1 436.4h0M1532.8 446.1h0M1533.5 558.0h0M1534.2 567.3h0M1535.0 524.8h0M1535.7 577.0h0M1536.4 564.3h0M1537.1 567.6h0M1537.8 604.3h0M1538.5 530.7h0M1539.2 432.9h0M1539.9 380.4h0M1540.6 467.8h0M1541.4 555.3h0M1542.1 539.5h0M1542.8 485.5h0M1543.5 548.7h0M1544.2 553.3h0M1544.9 553.8h0M1545.6 535.3h0M1546.3 529.5h0M1547.0 498.6h0M1547.8 455.0h0M1548.5 459.4h0M1549.2 437.2h0M1549.9 374.3h0M1550.6 439.4h0M1551.3 488.6h0M1552.0 467.8h0M1552.7 402.9h0M1553.4 416.0h0M1554.2 392.0h0M1554.9 424.8h0M1555.6 404.8h0M1556.3 445.2h0M1557.0 428.3h0M1557.7 425.4h0M1558.4 422.8h0M1559.1 385.7h0M1559.8 408.4h0M1560.6 413.1h0M1561.3 393.4h0M1562.0 469.1h0M1562.7 430.0h0M1563.4 399.1h0M1564.1 402.7h0M1564.8 378.6h0M1565.5 370.1h0M1566.2 377.4h0M1567.0 390.9h0M1567.7 375.5h0M1568.4 397.4h0M1569.1 418.6h0M1569.8 413.5h0M1570.5 415.6h0M1571.2 478.4h0M1571.9 383.3h0M1572.6 382.8h0M1573.3 450.4h0M1574.1 396.4h0M1574.8 396.5h0M1575.5 387.0h0M1576.2 359.9h0M1576.9 399.7h0M1577.6 507.2h0M1578.3 478.6h0M1579.0 443.2h0M1579.7 386.5h0M1580.5 411.1h0M1581.2 410.0h0M1581.9 382.7h0M1582.6 389.5h0M1583.3 391.6h0M1584.0 373.0h0M1584.7 408.1h0M1585.4 332.2h0M1586.1 293.0h0M1586.9 214.0h0M1587.6 257.7h0M1588.3 399.7h0M1589.0 368.4h0M1589.7 327.6h0M1590.4 281.2h0M1591.1 279.8h0M1591.8 317.1h0M1592.5 297.2h0M1593.3 366.1h0M1594.0 363.7h0M1594.7 345.4h0M1595.4 330.8h0M1596.1 379.8h0M1596.8 428.0h0M1597.5 356.1h0M1598.2 376.7h0M1598.9 429.8h0M1599.7 455.5h0M1600.4 433.5h0M1601.1 379.4h0M1601.8 378.4h0M1602.5 339.6h0M1603.2 341.9h0M1603.9 336.3h0M1604.6 316.9h0M1605.3 344.0h0M1606.1 344.2h0M1606.8 364.7h0M1607.5 387.2h0M1608.2 366.6h0M1608.9 393.7h0M1609.6 388.2h0M1610.3 408.9h0M1611.0 404.6h0M1611.7 413.8h0M1612.5 374.7h0M1613.2 374.2h0M1613.9 374.0h0M1614.6 329.2h0M1615.3 425.0h0M1616.0 409.5h0M1616.7 418.5h0M1617.4 431.3h0" fill="none" stroke="#1a1a1a" stroke-width="3.5" stroke-linecap="round"/>
</g>

<!-- orange band -->
<polygon points="700.0,818.0 780.0,800.0 880.0,777.0 1000.0,744.0 1100.0,733.0 1141.0,723.0 1182.0,712.7 1222.5,694.0 1263.0,663.7 1304.0,621.0 1345.0,598.0 1386.0,566.0 1435.0,514.0 1484.0,466.0 1520.0,430.0 1560.0,380.0 1590.0,330.0 1617.0,272.0 1617.0,430.0 1590.0,445.0 1560.0,470.0 1520.0,500.0 1484.0,545.0 1435.0,590.0 1386.0,647.0 1345.0,686.0 1304.0,723.0 1283.8,743.0 1263.0,776.0 1243.0,796.0 1222.5,806.5 1202.0,807.6 1181.7,800.5 1140.8,784.0 1100.0,776.0 1000.0,771.0 880.0,793.0 780.0,810.0 700.0,824.0" fill="#f7861c" fill-opacity="0.2"/>

<!-- curves -->
<path d="M201.0 846.0 C207.7 846.0 214.3 846.0 221.0 846.0 C228.9 846.0 236.9 881.0 244.8 881.0 C252.2 881.0 259.6 868.6 267.0 866.0 C277.3 862.4 287.7 861.1 298.0 859.0 C312.0 856.1 326.0 853.1 340.0 851.0 C349.3 849.6 358.7 847.5 368.0 847.5 C382.0 847.5 396.0 847.5 410.0 847.5 C423.0 847.5 436.0 846.0 449.0 846.0 C451.9 846.0 454.8 852.1 457.7 858.0 C460.5 863.6 463.2 879.0 466.0 888.8 C469.0 899.4 472.0 919.0 475.0 919.0 C479.2 919.0 483.3 916.7 487.5 915.0 C492.3 913.0 497.2 906.7 502.0 906.4 C509.7 905.9 517.3 906.2 525.0 905.6 C528.7 905.3 532.3 902.0 536.0 899.2 C543.0 893.8 550.0 872.8 557.0 872.0 C566.0 870.9 575.0 871.3 584.0 870.4 C594.0 869.4 604.0 858.4 614.0 858.4 C616.3 858.4 618.7 861.5 621.0 864.0 C625.3 868.7 629.7 888.8 634.0 888.8 C641.3 888.8 648.7 880.5 656.0 876.8 C670.3 869.5 684.7 856.8 699.0 856.8 C704.0 856.8 709.0 870.4 714.0 870.4 C732.0 870.4 750.0 849.6 768.0 849.6 C778.7 849.6 789.3 852.0 800.0 852.0 C812.3 852.0 824.7 848.4 837.0 848.4 C852.7 848.4 868.3 852.7 884.0 852.7 C907.0 852.7 930.0 844.0 953.0 844.0 C964.3 844.0 975.7 846.7 987.0 846.7 C1001.3 846.7 1015.7 841.5 1030.0 841.5 C1044.7 841.5 1059.3 845.0 1074.0 845.0 C1079.3 845.0 1084.7 840.9 1090.0 839.8 C1096.3 838.4 1102.7 836.8 1109.0 836.8 C1117.0 836.8 1125.0 840.6 1133.0 846.4 C1135.0 847.9 1137.0 852.4 1139.0 856.0 C1140.5 858.7 1141.9 861.5 1143.4 865.0 C1145.3 869.5 1147.1 879.1 1149.0 881.6 C1152.7 886.5 1156.3 890.4 1160.0 890.4 C1161.7 890.4 1163.3 890.2 1165.0 890.0 C1170.3 889.3 1175.7 880.6 1181.0 880.6 C1185.3 880.6 1189.7 887.0 1194.0 887.0 C1201.3 887.0 1208.7 879.1 1216.0 874.4 C1221.2 871.1 1226.3 863.4 1231.5 863.4 C1236.7 863.4 1241.8 869.7 1247.0 869.7 C1253.3 869.7 1259.7 864.2 1266.0 861.8 C1275.3 858.3 1284.7 852.4 1294.0 852.4 C1299.3 852.4 1304.7 884.2 1310.0 887.0 C1313.2 888.6 1316.3 890.0 1319.5 890.0 C1337.3 890.0 1355.2 858.6 1373.0 858.6 C1375.0 858.6 1377.0 864.0 1379.0 868.0 C1384.0 877.9 1389.0 914.4 1394.0 914.4 C1399.3 914.4 1404.7 904.8 1410.0 900.0 C1416.7 894.0 1423.3 887.9 1430.0 882.0 C1435.9 876.8 1441.7 870.9 1447.6 866.5 C1452.4 862.9 1457.2 859.2 1462.0 857.0 C1467.2 854.6 1472.3 852.3 1477.5 851.4 C1483.1 850.4 1488.8 849.4 1494.4 849.4 C1501.8 849.4 1509.1 850.5 1516.5 851.4 C1522.1 852.1 1527.8 853.9 1533.4 854.6 C1540.8 855.5 1548.1 856.6 1555.5 856.6 C1576.0 856.6 1596.5 856.2 1617.0 856.0" fill="none" stroke="#4169e1" stroke-width="4.6" stroke-linejoin="round" stroke-linecap="round"/>
<path d="M201.0 877.0 C217.3 876.8 233.7 876.7 250.0 876.5 C266.0 876.3 282.0 876.3 298.0 876.0 C312.0 875.7 326.0 874.4 340.0 873.5 C358.7 872.3 377.3 871.0 396.0 869.5 C414.7 868.0 433.3 865.7 452.0 864.0 C461.3 863.2 470.7 862.6 480.0 861.6 C495.0 860.0 510.0 857.2 525.0 855.0 C536.7 853.3 548.3 851.7 560.0 850.0 C573.3 848.0 586.7 845.9 600.0 844.0 C613.3 842.1 626.7 840.6 640.0 838.4 C666.7 833.9 693.3 827.3 720.0 820.8 C740.0 815.9 760.0 808.6 780.0 804.4 C786.7 803.0 793.3 802.1 800.0 800.8 C822.0 796.6 844.0 791.5 866.0 787.0 C889.0 782.3 912.0 777.3 935.0 773.0 C952.3 769.8 969.7 766.5 987.0 764.0 C1004.3 761.5 1021.7 759.9 1039.0 757.7 C1059.3 755.1 1079.7 752.8 1100.0 749.4 C1113.7 747.1 1127.3 744.0 1141.0 741.0 C1154.7 738.0 1168.3 735.5 1182.0 731.0 C1195.3 726.6 1208.7 717.2 1222.0 710.6 C1229.0 707.1 1236.0 704.9 1243.0 700.4 C1249.7 696.2 1256.3 688.3 1263.0 682.0 C1270.0 675.4 1277.0 668.6 1284.0 661.6 C1290.7 654.9 1297.3 647.1 1304.0 641.0 C1317.7 628.6 1331.3 619.1 1345.0 608.6 C1358.7 598.1 1372.3 588.2 1386.0 578.0 C1402.3 565.8 1418.7 554.7 1435.0 541.4 C1453.3 526.5 1471.7 507.5 1490.0 492.0 C1508.3 476.5 1526.7 464.5 1545.0 448.0 C1557.7 436.6 1570.3 423.5 1583.0 409.4 C1594.3 396.8 1605.7 381.8 1617.0 368.0" fill="none" stroke="#f7861c" stroke-width="6" stroke-linejoin="round" stroke-linecap="round"/>
<path d="M201.0 855.0 C207.7 854.8 214.3 854.5 221.0 854.5 C229.0 854.5 237.0 890.0 245.0 890.0 C252.3 890.0 259.7 884.5 267.0 882.0 C277.3 878.5 287.7 874.9 298.0 872.0 C312.0 868.1 326.0 865.7 340.0 862.0 C349.3 859.6 358.7 855.5 368.0 854.0 C382.0 851.8 396.0 851.4 410.0 849.6 C423.0 847.9 436.0 843.3 449.0 843.3 C451.9 843.3 454.8 847.0 457.7 851.0 C460.5 854.8 463.2 866.5 466.0 876.0 C469.0 886.3 472.0 912.0 475.0 912.0 C479.2 912.0 483.3 911.1 487.5 910.0 C491.7 908.9 495.8 900.2 500.0 897.6 C504.0 895.1 508.0 892.5 512.0 892.0 C516.3 891.4 520.7 891.6 525.0 891.0 C531.3 890.1 537.7 878.9 544.0 872.0 C549.3 866.2 554.7 854.2 560.0 852.8 C565.3 851.4 570.7 851.5 576.0 850.4 C581.3 849.3 586.7 847.0 592.0 844.8 C599.3 841.7 606.7 832.8 614.0 832.8 C616.3 832.8 618.7 833.7 621.0 835.2 C623.0 836.5 625.0 850.0 627.0 852.8 C629.7 856.6 632.3 860.0 635.0 860.0 C642.0 860.0 649.0 849.7 656.0 844.8 C664.0 839.2 672.0 833.7 680.0 828.8 C687.0 824.5 694.0 816.8 701.0 816.8 C703.0 816.8 705.0 820.8 707.0 820.8 C716.7 820.8 726.3 815.4 736.0 811.2 C746.7 806.5 757.3 791.4 768.0 790.4 C772.0 790.0 776.0 790.1 780.0 789.7 C786.7 789.1 793.3 786.4 800.0 784.8 C813.5 781.5 827.0 776.7 840.5 775.0 C854.9 773.2 869.2 773.4 883.6 771.5 C898.0 769.6 912.4 760.5 926.8 756.0 C938.3 752.4 949.8 749.1 961.3 746.5 C978.5 742.7 995.8 739.2 1013.0 737.0 C1021.7 735.9 1030.3 735.1 1039.0 734.4 C1050.5 733.4 1062.1 733.3 1073.6 731.8 C1082.4 730.6 1091.2 722.5 1100.0 721.0 C1106.7 719.9 1113.3 718.8 1120.0 718.8 C1125.6 718.8 1131.1 720.1 1136.7 723.0 C1138.8 724.1 1140.9 735.9 1143.0 741.0 C1145.7 747.5 1148.3 755.0 1151.0 757.6 C1153.7 760.2 1156.3 762.7 1159.0 762.7 C1163.1 762.7 1167.3 760.0 1171.4 757.6 C1174.8 755.6 1178.3 747.3 1181.7 747.3 C1185.1 747.3 1188.4 748.4 1191.8 748.4 C1193.9 748.4 1195.9 747.2 1198.0 746.0 C1202.0 743.8 1206.0 735.5 1210.0 731.0 C1221.0 718.6 1232.0 710.3 1243.0 698.4 C1253.2 687.3 1263.4 673.8 1273.6 661.6 C1281.1 652.7 1288.5 635.0 1296.0 635.0 C1298.7 635.0 1301.3 640.9 1304.0 645.0 C1306.8 649.3 1309.6 661.6 1312.4 661.6 C1316.4 661.6 1320.5 658.1 1324.5 655.5 C1331.3 651.0 1338.2 643.0 1345.0 635.0 C1351.7 627.2 1358.3 614.8 1365.0 606.5 C1370.5 599.6 1376.1 588.0 1381.6 588.0 C1384.4 588.0 1387.2 615.6 1390.0 616.0 C1393.3 616.5 1396.7 616.7 1400.0 616.7 C1404.9 616.7 1409.7 588.0 1414.6 578.0 C1426.1 554.3 1437.5 538.6 1449.0 523.0 C1460.7 507.1 1472.3 489.9 1484.0 481.5 C1495.3 473.4 1506.7 471.4 1518.0 464.0 C1529.7 456.4 1541.3 444.4 1553.0 433.0 C1564.5 421.7 1576.1 408.2 1587.6 395.0 C1597.4 383.8 1607.2 371.7 1617.0 360.0" fill="none" stroke="#e3242b" stroke-width="4.2" stroke-linejoin="round" stroke-linecap="round"/>

<!-- frame -->
<rect x="200.5" y="213.5" width="1473" height="953" fill="none" stroke="#000" stroke-width="3"/>

<!-- ticks -->
<g stroke="#444" stroke-width="2">
<line x1="254.8" y1="1168" x2="254.8" y2="1184"/>
<line x1="425.4" y1="1168" x2="425.4" y2="1184"/>
<line x1="596.1" y1="1168" x2="596.1" y2="1184"/>
<line x1="766.7" y1="1168" x2="766.7" y2="1184"/>
<line x1="937.4" y1="1168" x2="937.4" y2="1184"/>
<line x1="1108.0" y1="1168" x2="1108.0" y2="1184"/>
<line x1="1278.6" y1="1168" x2="1278.6" y2="1184"/>
<line x1="1449.3" y1="1168" x2="1449.3" y2="1184"/>
<line x1="1619.9" y1="1168" x2="1619.9" y2="1184"/>
<line x1="183" y1="1131.3" x2="200" y2="1131.3"/>
<line x1="183" y1="1043.1" x2="200" y2="1043.1"/>
<line x1="183" y1="954.8" x2="200" y2="954.8"/>
<line x1="183" y1="866.6" x2="200" y2="866.6"/>
<line x1="183" y1="778.4" x2="200" y2="778.4"/>
<line x1="183" y1="690.1" x2="200" y2="690.1"/>
<line x1="183" y1="601.9" x2="200" y2="601.9"/>
<line x1="183" y1="513.6" x2="200" y2="513.6"/>
<line x1="183" y1="425.4" x2="200" y2="425.4"/>
<line x1="183" y1="337.2" x2="200" y2="337.2"/>
<line x1="183" y1="248.9" x2="200" y2="248.9"/>
</g>
<g font-size="37" fill="#000">
<text x="254.8" y="1224" text-anchor="middle" textLength="78.5" lengthAdjust="spacingAndGlyphs">1860</text>
<text x="425.4" y="1224" text-anchor="middle" textLength="78.5" lengthAdjust="spacingAndGlyphs">1880</text>
<text x="596.1" y="1224" text-anchor="middle" textLength="78.5" lengthAdjust="spacingAndGlyphs">1900</text>
<text x="766.7" y="1224" text-anchor="middle" textLength="78.5" lengthAdjust="spacingAndGlyphs">1920</text>
<text x="937.4" y="1224" text-anchor="middle" textLength="78.5" lengthAdjust="spacingAndGlyphs">1940</text>
<text x="1108.0" y="1224" text-anchor="middle" textLength="78.5" lengthAdjust="spacingAndGlyphs">1960</text>
<text x="1278.6" y="1224" text-anchor="middle" textLength="78.5" lengthAdjust="spacingAndGlyphs">1980</text>
<text x="1449.3" y="1224" text-anchor="middle">2000</text>
<text x="1619.9" y="1224" text-anchor="middle">2020</text>
<text x="170.5" y="1144.6" text-anchor="end">-0.6</text>
<text x="170.5" y="1056.4" text-anchor="end">-0.4</text>
<text x="170.5" y="968.1" text-anchor="end">-0.2</text>
<text x="170.5" y="879.9" text-anchor="end">0.0</text>
<text x="170.5" y="791.7" text-anchor="end">0.2</text>
<text x="170.5" y="703.4" text-anchor="end">0.4</text>
<text x="170.5" y="615.2" text-anchor="end">0.6</text>
<text x="170.5" y="526.9" text-anchor="end">0.8</text>
<text x="170.5" y="438.7" text-anchor="end">1.0</text>
<text x="170.5" y="350.5" text-anchor="end">1.2</text>
<text x="170.5" y="262.2" text-anchor="end">1.4</text>
</g>
<text transform="translate(98.6,1000.5) rotate(-90)" font-size="39.9" fill="#000">Warming relative to 1850-1900 (°C)</text>

<!-- legend -->
<g stroke-width="3.6">
<line x1="235" y1="261.5" x2="309" y2="261.5" stroke="#666"/>
<line x1="235" y1="310" x2="309" y2="310" stroke="#dd2c36"/>
<line x1="235" y1="357.6" x2="309" y2="357.6" stroke="#ee9346"/>
<line x1="235" y1="405.8" x2="309" y2="405.8" stroke="#6a82d6"/>
</g>
<g font-size="39.9" fill="#000">
<text x="343" y="276.4">monthly observations (GISTEMP/NOAA/HadCRUT4/Cru4CW)</text>
<text x="343" y="325">ΔT combined</text>
<text x="343" y="372.2">ΔT human-induced</text>
<text x="343" y="420">ΔT natural</text>
</g>
<text x="346.6" y="528" font-size="39.7" fill="#e98a33">GWI on 15 Sept 2019: +1.126°C</text>

<!-- logos -->
<g id="eci">
<rect x="1384.2" y="1014.2" width="121.8" height="114.6" fill="#1a8db7"/>
<text x="1388" y="1115" class="serif" font-family="Liberation Serif, serif" font-size="99" fill="#fff" textLength="114" lengthAdjust="spacingAndGlyphs">ecı</text>
<ellipse cx="1489.5" cy="1049" rx="7" ry="11.5" transform="rotate(25 1489.5 1049)" fill="#fff"/>
<path d="M1486 1036 Q1490 1024 1497 1027 Q1502 1031 1499 1040" fill="none" stroke="#cfeaf5" stroke-width="2.2"/>
</g>
<g id="oxford">
<rect x="1522" y="1014.2" width="117" height="114.3" fill="#0e205c"/>
<g fill="none" stroke="#e8ecf5">
<circle cx="1605" cy="1046.4" r="23" stroke-width="1.6"/>
<circle cx="1605" cy="1046.4" r="17.5" stroke-width="1.2"/>
<circle cx="1605" cy="1046.4" r="20.2" stroke-width="3.2" stroke-dasharray="1.2 1.6" stroke-opacity="0.8"/>
</g>
<path d="M1595 1036 L1615 1036 L1615 1050 Q1615 1058 1605 1061 Q1595 1058 1595 1050 Z" fill="#c9d0e2"/>
<path d="M1598 1044 h14 M1605 1040 v12" stroke="#0e205c" stroke-width="1.2"/>
<path d="M1600 1069 Q1605 1075 1610 1069 M1601 1073 Q1605 1078 1609 1073" fill="none" stroke="#e8ecf5" stroke-width="1.6"/>
<text x="1532" y="1096.8" class="serif" font-family="Liberation Serif, serif" font-size="9.5" font-weight="bold" fill="#dfe4f0" textLength="77" lengthAdjust="spacingAndGlyphs">UNIVERSITY OF</text>
<text x="1531" y="1117.4" class="serif" font-family="Liberation Serif, serif" font-size="21" fill="#e8ecf5" stroke="#e8ecf5" stroke-width="0.3" textLength="98.5" lengthAdjust="spacingAndGlyphs">OXFORD</text>
</g>


<!-- right icons -->
<g id="brackets" fill="none" stroke="#111" stroke-width="4.2" stroke-linecap="round" stroke-linejoin="round">
<path d="M1806 78 L1792 79 Q1785 80 1785 87 L1785 380 Q1785 386 1780 388.5 Q1776 389 1760 389 M1780 389.5 Q1785 392 1785 398 L1785 692 Q1785 699 1792 699.5 L1805.5 700"/>
<path d="M1830 750.4 L1806 751.5 Q1799 752.5 1799 760 L1799 842 Q1799 849 1794 852 Q1790 853.3 1765.5 853.3 M1794 854.5 Q1799 857 1799 864 L1799 946 Q1799 953 1806 953.5 L1831 954.2"/>
</g>
<!-- car -->
<g id="car">
<path d="M1798.1 91 Q1798.1 84.5 1804 84 L1815 81.6 L1826.4 62.5 L1862 62.5 L1884.2 83.6 L1903 88.5 Q1910.5 90.5 1910.5 97 L1910.5 104 Q1910.5 110.5 1904 110.5 L1803 110.5 Q1798.1 110.5 1798.1 104 Z" fill="#000"/>
<path d="M1820.5 85.5 L1829.6 69.6 L1844.3 69.6 L1844.3 85.5 Z M1846.5 85.5 L1846.5 69.6 L1862 69.6 L1876.4 85.5 Z" fill="#fff"/>
<circle cx="1821.8" cy="108.3" r="11.6" fill="#000"/><circle cx="1821.8" cy="108.3" r="6.8" fill="#fff"/>
<circle cx="1891.1" cy="108.3" r="11.6" fill="#000"/><circle cx="1891.1" cy="108.3" r="6.8" fill="#fff"/>
</g>
<!-- factory -->
<g id="factory">
<path d="M1826.7 141.7 C1824 146 1819 146.4 1815 146.4 C1811 146.4 1809 148 1808 151.5" fill="none" stroke="#444" stroke-width="2.6" stroke-linecap="round"/>
<path d="M1798.7 214.5 L1798.7 192.5 Q1798.7 190.4 1801 190.4 L1805 190.4 L1805 156.5 Q1805 155.4 1806.5 155.4 L1814.5 155.4 Q1815.7 155.4 1815.7 156.5 L1815.7 185.1 L1832.8 177.8 L1833.5 188.4 L1860.5 178.4 L1861.2 187.8 L1887.9 177.8 L1888.2 214.5 Z" fill="#000"/>
<g fill="#fff"><rect x="1814.4" y="191.1" width="12.7" height="15.4"/><rect x="1841.8" y="191.1" width="12.7" height="15.4"/><rect x="1868.8" y="191.1" width="12" height="15.4"/></g>
</g>
<!-- city -->
<g id="city">
<rect x="1796.6" y="319.5" width="142.6" height="3.6" fill="#000"/>
<g fill="#000">
<path d="M1805 320 L1805 273 Q1808.4 269 1811.7 273 L1811.7 320 Z"/>
<path d="M1820.6 304 L1820.6 284 Q1823.5 280.5 1826.4 284 L1826.4 296 L1831.5 296 L1831.5 276 Q1834 272 1836.5 276 L1836.5 304 Z"/>
<path d="M1839.6 320 L1839.6 281 Q1843.7 277 1846.6 279 L1846.6 268 Q1849.3 263.5 1852 268 L1852 320 Z"/>
<rect x="1858.2" y="277.9" width="18.6" height="12"/>
<path d="M1868.7 320 L1868.7 290 L1876.8 285 L1887 285 L1887 320 Z"/>
<path d="M1886.5 320 L1886.5 268 Q1891 262 1895.4 268 L1895.4 320 Z"/>
<path d="M1905.5 320 L1905.5 275 Q1910 269 1914.4 275 L1914.4 320 Z"/>
<path d="M1921.8 300 L1921.8 280 Q1924 276 1926.4 280 L1926.4 300 Z"/>
<path d="M1927.2 300 L1927.2 272 Q1932.5 264 1937.7 272 L1937.7 300 Z"/>
<rect x="1931.9" y="309.7" width="7.3" height="11"/>
</g>
<g>
<rect x="1796.6" y="285.7" width="13.9" height="34.5" fill="#aaa" stroke="#000" stroke-width="1"/>
<path d="M1798.5 291 h10 M1798.5 296 h10 M1798.5 301 h10 M1798.5 306 h10 M1798.5 311 h10 M1798.5 316 h10" stroke="#eee" stroke-width="1.3"/>
<rect x="1812.5" y="303.5" width="26.7" height="16.7" fill="#bbb" stroke="#000" stroke-width="1"/>
<path d="M1817 308 v11 M1821 308 v11 M1826 308 v11 M1830 308 v11 M1834 308 v11" stroke="#555" stroke-width="2"/>
<rect x="1848.9" y="288.8" width="19.8" height="31.4" fill="#7a7a7a" stroke="#000" stroke-width="1"/>
<path d="M1850 293 h18 M1850 297 h18 M1850 301 h18 M1850 305 h18 M1850 309 h18 M1850 316.5 h18" stroke="#aaa" stroke-width="1.2"/>
<path d="M1876.4 307 L1876.4 266 L1881 260 L1885.7 266 L1885.7 307 Z" fill="#999" stroke="#000" stroke-width="1"/>
<path d="M1877.5 270 h7 M1877.5 276 h7 M1877.5 282 h7 M1877.5 288 h7 M1877.5 294 h7 M1877.5 300 h7" stroke="#ddd" stroke-width="1.3"/>
<rect x="1873.7" y="312.8" width="10.9" height="6.2" fill="#fff"/>
<rect x="1890.4" y="295" width="17" height="25.2" fill="#bbb" stroke="#000" stroke-width="1"/>
<path d="M1894 299 v21 M1898.5 299 v21 M1903 299 v21" stroke="#666" stroke-width="1.8"/>
<rect x="1914.8" y="292.6" width="17" height="27.6" fill="#b5b5b5" stroke="#000" stroke-width="1"/>
<path d="M1915 299 h17 M1915 305 h17 M1915 311 h17 M1920 293 v27 M1925 293 v27" stroke="#666" stroke-width="1.3"/>
<rect x="1931.9" y="292.6" width="7.3" height="17" fill="#999" stroke="#000" stroke-width="1"/>
</g>
</g>
<!-- tractor -->
<g id="tractor">
<path d="M1815.1 372.6 L1855.2 372.6 L1863.8 402.4 L1907 402.4 Q1909.8 402.4 1909.8 406 L1909.8 428.3 L1905 428.3 Q1897 420.5 1888 423 Q1882 425.5 1878 433 L1856.8 433 L1856.8 415 Q1852 403 1840 401 L1815.1 401 Z" fill="#000"/>
<path d="M1819.1 376.9 L1852.1 376.9 L1858.5 402 L1848 402 L1843 398.5 L1819.1 398.5 Z" fill="#fff"/>
<path d="M1805 409 Q1813 399 1829 398.5 Q1846 399 1853 410 L1856.8 420 L1856.8 433 L1853 433 Q1850 405 1826 403 Q1812 404 1805 411 Z" fill="#000"/>
<circle cx="1826.1" cy="429.1" r="27.9" fill="none" stroke="#fff" stroke-width="2.4"/>
<circle cx="1826.1" cy="429.1" r="26.3" fill="#000"/>
<circle cx="1826.1" cy="429.1" r="12.6" fill="none" stroke="#fff" stroke-width="5.4"/>
<circle cx="1894.5" cy="439.3" r="15.6" fill="none" stroke="#fff" stroke-width="2"/>
<circle cx="1894.5" cy="439.3" r="14.1" fill="#000"/>
<circle cx="1894.5" cy="439.3" r="6.7" fill="#fff"/>
</g>
<!-- cow -->
<g id="cow" transform="translate(1795 478) scale(0.07855)" fill="#2b2b2b">
<path d="M520 900 L600 880 L615 1000 L610 1170 Q600 1200 570 1200 Q540 1200 535 1170 L525 1000 Z"/>
<path d="M1175 980 L1250 970 L1270 1060 L1265 1170 Q1255 1200 1225 1200 Q1192 1200 1185 1170 L1180 1060 Z"/>
<path d="M1075 870 Q1120 815 1210 815 L1205 890 Q1140 915 1075 870 Z"/>
<path stroke="#fff" stroke-width="26" stroke-linejoin="round" d="M105 145 Q140 100 220 105 Q280 110 330 92 Q400 110 470 140 Q540 125 585 165 Q575 210 600 240 Q700 275 800 285 Q1000 280 1200 245 Q1300 235 1400 285 Q1460 350 1465 450 L1465 600 Q1462 720 1440 790 Q1425 850 1425 1000 L1420 1160 Q1412 1195 1370 1195 Q1328 1195 1320 1165 L1315 1000 Q1305 860 1270 790 Q1240 752 1200 755 Q1120 770 1075 840 Q960 840 800 822 L785 835 L780 1160 Q772 1195 735 1195 Q690 1195 682 1165 L670 960 Q655 880 620 855 Q520 840 450 805 Q388 750 382 650 L385 580 Q420 540 470 515 Q420 545 350 560 Q260 590 180 575 Q110 545 95 480 Q110 430 135 410 Q165 330 150 255 Q120 200 105 145 Z"/>
</g>
<!-- excavator / deforestation -->
<g id="excavator" transform="translate(1785 580) scale(0.09428)">
<path d="M60 1125 L60 1108 L690 985 L795 850 L810 665 L850 655 L870 845 L890 790 L940 760 L970 140 L1000 95 L1045 105 L1062 420 L1075 760 L1100 780 L1112 675 L1148 672 L1165 800 L1222 830 L1238 220 L1262 185 L1292 215 L1300 470 L1305 860 L1340 875 L1455 1035 L1458 1125 Z" fill="#000"/>
<path d="M695 985 L870 905 L905 888 L1300 872" fill="none" stroke="#8a8a8a" stroke-width="16"/>
<path d="M505 810 L505 595 Q515 540 600 470 L880 442 L950 380" fill="none" stroke="#000" stroke-width="78" stroke-linejoin="round"/>
<path d="M215 835 L330 715 L425 712 L495 760 L550 800 L550 905 L230 950 Z" fill="#000"/>
<path d="M268 1065 L250 1005 L605 925 L630 975 Z" fill="#777" stroke="#000" stroke-width="22" stroke-linejoin="round"/>
<path d="M300 1020 L590 958" stroke="#bbb" stroke-width="10" stroke-dasharray="25 18"/>
</g>
<!-- sun -->
<g id="sun">
<g fill="#f1e75c" transform="translate(1889.6 778.6)">
<ellipse cx="37.6" cy="0" rx="9" ry="4.2" transform="rotate(-120)"/>
<ellipse cx="37.6" cy="0" rx="9" ry="4.2" transform="rotate(-89)"/>
<ellipse cx="37.6" cy="0" rx="9" ry="4.2" transform="rotate(-53)"/>
<ellipse cx="37.6" cy="0" rx="9" ry="4.2" transform="rotate(-18)"/>
<ellipse cx="37.6" cy="0" rx="9" ry="4.2" transform="rotate(15)"/>
<ellipse cx="37.6" cy="0" rx="9" ry="4.2" transform="rotate(47)"/>
<ellipse cx="37.6" cy="0" rx="9" ry="4.2" transform="rotate(83)"/>
<ellipse cx="37.6" cy="0" rx="9" ry="4.2" transform="rotate(114)"/>
<ellipse cx="37.6" cy="0" rx="9" ry="4.2" transform="rotate(144)"/>
<ellipse cx="37.6" cy="0" rx="9" ry="4.2" transform="rotate(174)"/>
<ellipse cx="37.6" cy="0" rx="9" ry="4.2" transform="rotate(-157)"/>
</g>
<circle cx="1889.6" cy="778.6" r="21.2" fill="#f9ec3f"/>
</g>
<!-- volcano -->
<g id="volcano" transform="translate(1815 840) scale(0.12176)">
<g fill="#eeeef0"><circle cx="430" cy="210" r="150"/><circle cx="600" cy="170" r="150"/><circle cx="760" cy="240" r="135"/><circle cx="400" cy="380" r="125"/><circle cx="590" cy="350" r="190"/><circle cx="790" cy="390" r="115"/><circle cx="520" cy="470" r="110"/><circle cx="690" cy="470" r="105"/></g>
<path d="M60 1160 L470 600 L700 600 L1200 1195 L940 1110 L930 1170 L760 1130 L660 1210 L560 1120 L480 1100 L400 1170 L250 1200 L240 1100 Z" fill="#9a3414"/>
<path d="M470 600 L700 600 L860 800 L790 800 L770 980 L700 850 L640 900 L600 860 L520 1080 L500 900 L380 960 L390 870 L330 860 Z" fill="#f28f26"/>
<path d="M480 590 L700 590 L730 680 L620 770 L560 720 L470 700 L430 660 Z" fill="#f7c948"/>
<path d="M470 400 L520 560 L500 340 L560 520 L590 240 L620 520 L650 380 L670 540 L700 420 L690 580 L490 585 Z" fill="#d8271d"/>
<path d="M590 240 L590 560" stroke="#555" stroke-width="16"/>
</g>

</svg>
</body></html>
